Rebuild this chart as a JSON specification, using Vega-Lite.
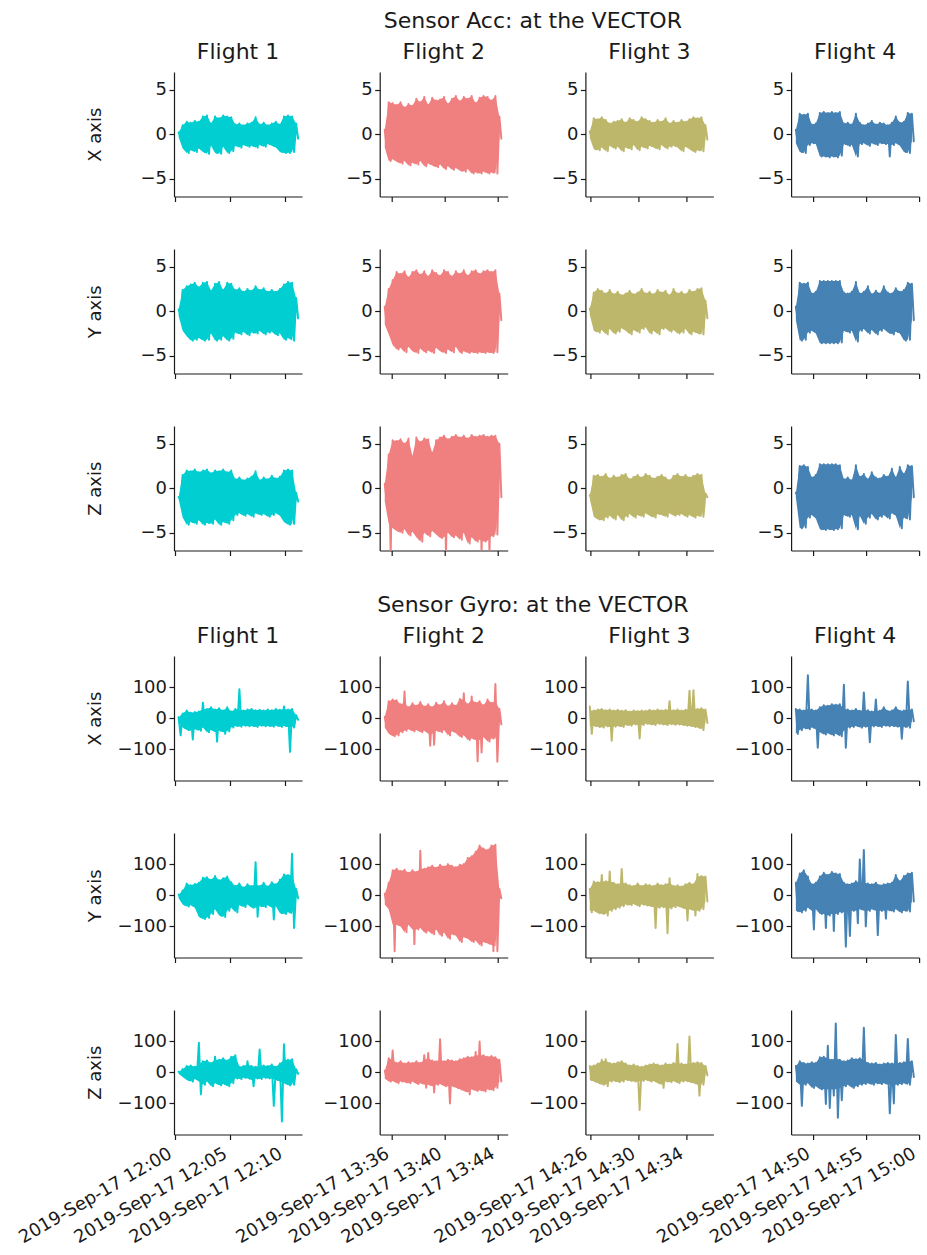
{
"$schema":"https://vega.github.io/schema/vega-lite/v6.json",
"background":"white",
"padding":{"left":0,"top":9,"right":3,"bottom":3},
"spacing":36,
"config":{
"font":"DejaVu Sans",
"view":{"stroke":null},
"line":{"strokeWidth":2,"strokeJoin":"round","strokeCap":"round"},
"area":{"opacity":1,"strokeWidth":0},
"axis":{"domainColor":"#1a1a1a","tickColor":"#1a1a1a","labelColor":"#1a1a1a","titleColor":"#1a1a1a","labelFont":"DejaVu Sans","titleFont":"DejaVu Sans","labelFontSize":18,"titleFontSize":18,"titleFontWeight":"normal","grid":false,"tickSize":5,"tickWidth":1.2,"domainWidth":1.2},
"axisX":{"labelAngle":-30,"labelAlign":"right","labelBaseline":"top","labelOffset":-9,"labelPadding":5,"labelFlush":false,"labelOverlap":false},
"axisY":{"labelPadding":2.5,"labelFlush":false,"labelOverlap":false,"minExtent":174,"titleX":-74,"titleBaseline":"alphabetic"},
"title":{"font":"DejaVu Sans","fontSize":22,"fontWeight":"normal","color":"#1a1a1a","anchor":"middle","frame":"group","baseline":"alphabetic","offset":7.7}
},
"datasets":{
"z":[
{"f":1,"t":"2019-09-17T12:00:21","ax":0.2,"ay":0.2,"az":-1.0,"gx":3,"gy":2,"gz":2},
{"f":1,"t":"2019-09-17T12:00:32","ax":-0.3,"ay":-0.5,"az":-1.2,"gx":-55,"gy":-10,"gz":-5},
{"f":1,"t":"2019-09-17T12:00:43","ax":1.0,"ay":2.4,"az":1.5,"gx":15,"gy":15,"gz":10},
{"f":1,"t":"2019-09-17T12:00:54","ax":-1.6,"ay":-2.2,"az":-3.3,"gx":-30,"gy":-30,"gz":-15},
{"f":1,"t":"2019-09-17T12:01:05","ax":1.4,"ay":2.8,"az":2.0,"gx":25,"gy":38,"gz":20},
{"f":1,"t":"2019-09-17T12:01:16","ax":-2.1,"ay":-2.8,"az":-4.1,"gx":-38,"gy":-36,"gz":-25},
{"f":1,"t":"2019-09-17T12:01:27","ax":1.3,"ay":3.0,"az":1.9,"gx":18,"gy":32,"gz":22},
{"f":1,"t":"2019-09-17T12:01:38","ax":-1.8,"ay":-3.3,"az":-3.8,"gx":-68,"gy":-32,"gz":-30},
{"f":1,"t":"2019-09-17T12:01:49","ax":1.5,"ay":3.2,"az":2.1,"gx":20,"gy":36,"gz":18},
{"f":1,"t":"2019-09-17T12:02:00","ax":-2.0,"ay":-3.2,"az":-4.0,"gx":-35,"gy":-40,"gz":-22},
{"f":1,"t":"2019-09-17T12:02:11","ax":1.4,"ay":2.7,"az":1.8,"gx":22,"gy":40,"gz":95},
{"f":1,"t":"2019-09-17T12:02:22","ax":-1.6,"ay":-3.0,"az":-3.6,"gx":-40,"gy":-70,"gz":-71},
{"f":1,"t":"2019-09-17T12:02:33","ax":2.0,"ay":3.2,"az":2.0,"gx":50,"gy":56,"gz":35},
{"f":1,"t":"2019-09-17T12:02:44","ax":-2.0,"ay":-3.3,"az":-4.1,"gx":-30,"gy":-76,"gz":-40},
{"f":1,"t":"2019-09-17T12:02:55","ax":2.1,"ay":3.3,"az":2.1,"gx":30,"gy":58,"gz":38},
{"f":1,"t":"2019-09-17T12:03:06","ax":-2.2,"ay":-3.2,"az":-3.9,"gx":-45,"gy":-72,"gz":-30},
{"f":1,"t":"2019-09-17T12:03:17","ax":1.2,"ay":2.3,"az":1.7,"gx":35,"gy":50,"gz":30},
{"f":1,"t":"2019-09-17T12:03:28","ax":-1.3,"ay":-2.5,"az":-4.0,"gx":-38,"gy":-60,"gz":-45},
{"f":1,"t":"2019-09-17T12:03:39","ax":2.0,"ay":3.1,"az":2.0,"gx":28,"gy":62,"gz":50},
{"f":1,"t":"2019-09-17T12:03:50","ax":-2.1,"ay":-3.3,"az":-3.5,"gx":-75,"gy":-45,"gz":-35},
{"f":1,"t":"2019-09-17T12:04:01","ax":1.8,"ay":3.3,"az":1.9,"gx":32,"gy":48,"gz":40},
{"f":1,"t":"2019-09-17T12:04:12","ax":-2.2,"ay":-3.2,"az":-4.1,"gx":-40,"gy":-65,"gz":-42},
{"f":1,"t":"2019-09-17T12:04:23","ax":2.1,"ay":2.4,"az":2.1,"gx":25,"gy":55,"gz":45},
{"f":1,"t":"2019-09-17T12:04:34","ax":-1.4,"ay":-2.8,"az":-3.8,"gx":-50,"gy":-70,"gz":-38},
{"f":1,"t":"2019-09-17T12:04:45","ax":2.0,"ay":3.2,"az":1.8,"gx":35,"gy":60,"gz":38},
{"f":1,"t":"2019-09-17T12:04:56","ax":-2.1,"ay":-3.3,"az":-4.0,"gx":-42,"gy":-50,"gz":-45},
{"f":1,"t":"2019-09-17T12:05:07","ax":1.9,"ay":3.1,"az":2.0,"gx":22,"gy":42,"gz":50},
{"f":1,"t":"2019-09-17T12:05:18","ax":-1.9,"ay":-3.1,"az":-3.6,"gx":-30,"gy":-40,"gz":-35},
{"f":1,"t":"2019-09-17T12:05:29","ax":1.1,"ay":2.4,"az":1.0,"gx":30,"gy":30,"gz":55},
{"f":1,"t":"2019-09-17T12:05:40","ax":-1.3,"ay":-2.4,"az":-3.0,"gx":-25,"gy":-55,"gz":-20},
{"f":1,"t":"2019-09-17T12:05:51","ax":1.2,"ay":2.6,"az":1.2,"gx":93,"gy":38,"gz":18},
{"f":1,"t":"2019-09-17T12:06:02","ax":-1.5,"ay":-2.6,"az":-2.8,"gx":-27,"gy":-32,"gz":-22},
{"f":1,"t":"2019-09-17T12:06:13","ax":1.0,"ay":2.2,"az":0.9,"gx":25,"gy":25,"gz":20},
{"f":1,"t":"2019-09-17T12:06:24","ax":-1.2,"ay":-2.3,"az":-3.1,"gx":-24,"gy":-38,"gz":-18},
{"f":1,"t":"2019-09-17T12:06:35","ax":1.2,"ay":2.5,"az":1.1,"gx":28,"gy":35,"gz":35},
{"f":1,"t":"2019-09-17T12:06:46","ax":-1.4,"ay":-2.7,"az":-2.9,"gx":-26,"gy":-30,"gz":-20},
{"f":1,"t":"2019-09-17T12:06:57","ax":1.3,"ay":2.3,"az":1.3,"gx":30,"gy":30,"gz":20},
{"f":1,"t":"2019-09-17T12:07:08","ax":-1.3,"ay":-2.4,"az":-3.2,"gx":-25,"gy":-40,"gz":-45},
{"f":1,"t":"2019-09-17T12:07:19","ax":1.9,"ay":2.8,"az":1.9,"gx":26,"gy":106,"gz":18},
{"f":1,"t":"2019-09-17T12:07:30","ax":-1.5,"ay":-2.5,"az":-2.8,"gx":-28,"gy":-69,"gz":-20},
{"f":1,"t":"2019-09-17T12:07:41","ax":1.1,"ay":2.4,"az":0.9,"gx":27,"gy":30,"gz":73},
{"f":1,"t":"2019-09-17T12:07:52","ax":-1.2,"ay":-2.2,"az":-3.0,"gx":-24,"gy":-35,"gz":-22},
{"f":1,"t":"2019-09-17T12:08:03","ax":1.3,"ay":2.6,"az":1.2,"gx":25,"gy":40,"gz":22},
{"f":1,"t":"2019-09-17T12:08:14","ax":-1.4,"ay":-2.6,"az":-2.9,"gx":-26,"gy":-38,"gz":-18},
{"f":1,"t":"2019-09-17T12:08:25","ax":1.0,"ay":2.2,"az":1.0,"gx":28,"gy":28,"gz":20},
{"f":1,"t":"2019-09-17T12:08:36","ax":-1.1,"ay":-2.4,"az":-3.2,"gx":-25,"gy":-32,"gz":-20},
{"f":1,"t":"2019-09-17T12:08:47","ax":1.2,"ay":2.4,"az":1.4,"gx":26,"gy":42,"gz":25},
{"f":1,"t":"2019-09-17T12:08:58","ax":-1.3,"ay":-2.3,"az":-3.0,"gx":-27,"gy":-78,"gz":-108},
{"f":1,"t":"2019-09-17T12:09:09","ax":1.4,"ay":2.2,"az":1.1,"gx":30,"gy":35,"gz":18},
{"f":1,"t":"2019-09-17T12:09:20","ax":-1.5,"ay":-2.7,"az":-2.8,"gx":-24,"gy":-35,"gz":-25},
{"f":1,"t":"2019-09-17T12:09:31","ax":1.1,"ay":2.5,"az":1.3,"gx":27,"gy":50,"gz":28},
{"f":1,"t":"2019-09-17T12:09:42","ax":-2.0,"ay":-2.5,"az":-3.1,"gx":-28,"gy":-58,"gz":-158},
{"f":1,"t":"2019-09-17T12:09:53","ax":2.0,"ay":3.0,"az":2.0,"gx":38,"gy":67,"gz":90},
{"f":1,"t":"2019-09-17T12:10:04","ax":-2.1,"ay":-3.2,"az":-3.8,"gx":-25,"gy":-60,"gz":-35},
{"f":1,"t":"2019-09-17T12:10:15","ax":2.1,"ay":3.3,"az":2.1,"gx":28,"gy":65,"gz":40},
{"f":1,"t":"2019-09-17T12:10:26","ax":-2.1,"ay":-3.0,"az":-4.1,"gx":-108,"gy":-55,"gz":-42},
{"f":1,"t":"2019-09-17T12:10:37","ax":2.0,"ay":3.2,"az":2.0,"gx":30,"gy":133,"gz":42},
{"f":1,"t":"2019-09-17T12:10:48","ax":-2.0,"ay":-3.3,"az":-4.0,"gx":-30,"gy":-105,"gz":-40},
{"f":1,"t":"2019-09-17T12:10:59","ax":1.2,"ay":1.5,"az":-0.5,"gx":10,"gy":20,"gz":10},
{"f":1,"t":"2019-09-17T12:11:10","ax":-0.5,"ay":-0.8,"az":-1.5,"gx":-5,"gy":-10,"gz":-5},
{"f":2,"t":"2019-09-17T13:35:27","ax":0.5,"ay":0.5,"az":0.5,"gx":5,"gy":5,"gz":5},
{"f":2,"t":"2019-09-17T13:35:36","ax":-1.5,"ay":-1.5,"az":-1.5,"gx":-30,"gy":-30,"gz":-20},
{"f":2,"t":"2019-09-17T13:35:45","ax":3.6,"ay":2.5,"az":3.8,"gx":55,"gy":40,"gz":45},
{"f":2,"t":"2019-09-17T13:35:54","ax":-3.0,"ay":-2.6,"az":-7.5,"gx":-50,"gy":-45,"gz":-30},
{"f":2,"t":"2019-09-17T13:36:03","ax":3.5,"ay":3.5,"az":5.4,"gx":60,"gy":80,"gz":70},
{"f":2,"t":"2019-09-17T13:36:12","ax":-2.8,"ay":-3.8,"az":-4.5,"gx":-58,"gy":-180,"gz":-28},
{"f":2,"t":"2019-09-17T13:36:21","ax":3.3,"ay":4.4,"az":5.3,"gx":58,"gy":85,"gz":30},
{"f":2,"t":"2019-09-17T13:36:30","ax":-3.1,"ay":-4.3,"az":-4.8,"gx":-55,"gy":-95,"gz":-35},
{"f":2,"t":"2019-09-17T13:36:39","ax":3.6,"ay":4.2,"az":5.5,"gx":45,"gy":78,"gz":35},
{"f":2,"t":"2019-09-17T13:36:48","ax":-3.3,"ay":-4.1,"az":-5.0,"gx":-45,"gy":-100,"gz":-30},
{"f":2,"t":"2019-09-17T13:36:57","ax":3.0,"ay":4.5,"az":5.0,"gx":86,"gy":82,"gz":28},
{"f":2,"t":"2019-09-17T13:37:06","ax":-3.0,"ay":-4.6,"az":-4.6,"gx":-40,"gy":-119,"gz":-32},
{"f":2,"t":"2019-09-17T13:37:15","ax":3.4,"ay":3.8,"az":5.6,"gx":35,"gy":72,"gz":32},
{"f":2,"t":"2019-09-17T13:37:24","ax":-3.5,"ay":-4.0,"az":-5.3,"gx":-35,"gy":-95,"gz":-35},
{"f":2,"t":"2019-09-17T13:37:33","ax":3.2,"ay":4.4,"az":3.6,"gx":48,"gy":80,"gz":30},
{"f":2,"t":"2019-09-17T13:37:42","ax":-3.2,"ay":-4.5,"az":-4.9,"gx":-42,"gy":-157,"gz":-30},
{"f":2,"t":"2019-09-17T13:37:51","ax":4.0,"ay":4.6,"az":5.7,"gx":40,"gy":75,"gz":35},
{"f":2,"t":"2019-09-17T13:38:00","ax":-3.4,"ay":-4.7,"az":-5.5,"gx":-38,"gy":-110,"gz":-38},
{"f":2,"t":"2019-09-17T13:38:09","ax":3.6,"ay":4.1,"az":5.2,"gx":52,"gy":143,"gz":30},
{"f":2,"t":"2019-09-17T13:38:18","ax":-3.0,"ay":-4.2,"az":-6.0,"gx":-45,"gy":-105,"gz":-35},
{"f":2,"t":"2019-09-17T13:38:27","ax":4.2,"ay":4.5,"az":5.6,"gx":38,"gy":85,"gz":55},
{"f":2,"t":"2019-09-17T13:38:36","ax":-3.6,"ay":-4.6,"az":-5.0,"gx":-40,"gy":-120,"gz":-50},
{"f":2,"t":"2019-09-17T13:38:45","ax":3.3,"ay":3.9,"az":5.5,"gx":45,"gy":90,"gz":62},
{"f":2,"t":"2019-09-17T13:38:54","ax":-3.3,"ay":-4.4,"az":-5.4,"gx":-88,"gy":-115,"gz":-40},
{"f":2,"t":"2019-09-17T13:39:03","ax":4.1,"ay":4.6,"az":4.0,"gx":35,"gy":95,"gz":38},
{"f":2,"t":"2019-09-17T13:39:12","ax":-3.5,"ay":-4.7,"az":-4.8,"gx":-85,"gy":-125,"gz":-65},
{"f":2,"t":"2019-09-17T13:39:21","ax":3.8,"ay":4.3,"az":5.4,"gx":50,"gy":88,"gz":35},
{"f":2,"t":"2019-09-17T13:39:30","ax":-3.7,"ay":-4.1,"az":-5.2,"gx":-40,"gy":-110,"gz":-40},
{"f":2,"t":"2019-09-17T13:39:39","ax":3.9,"ay":4.0,"az":5.7,"gx":42,"gy":98,"gz":106},
{"f":2,"t":"2019-09-17T13:39:48","ax":-3.4,"ay":-4.5,"az":-5.6,"gx":-45,"gy":-130,"gz":-38},
{"f":2,"t":"2019-09-17T13:39:57","ax":4.2,"ay":4.6,"az":5.9,"gx":55,"gy":92,"gz":35},
{"f":2,"t":"2019-09-17T13:40:06","ax":-3.9,"ay":-4.7,"az":-7.5,"gx":-38,"gy":-120,"gz":-45},
{"f":2,"t":"2019-09-17T13:40:15","ax":3.4,"ay":4.4,"az":5.5,"gx":38,"gy":100,"gz":40},
{"f":2,"t":"2019-09-17T13:40:24","ax":-3.6,"ay":-4.3,"az":-5.0,"gx":-55,"gy":-140,"gz":-100},
{"f":2,"t":"2019-09-17T13:40:33","ax":4.0,"ay":3.9,"az":5.8,"gx":48,"gy":95,"gz":38},
{"f":2,"t":"2019-09-17T13:40:42","ax":-4.0,"ay":-4.6,"az":-5.5,"gx":-42,"gy":-125,"gz":-45},
{"f":2,"t":"2019-09-17T13:40:51","ax":4.3,"ay":4.5,"az":6.0,"gx":40,"gy":90,"gz":35},
{"f":2,"t":"2019-09-17T13:41:00","ax":-3.8,"ay":-4.0,"az":-5.3,"gx":-48,"gy":-130,"gz":-50},
{"f":2,"t":"2019-09-17T13:41:09","ax":3.7,"ay":4.2,"az":5.7,"gx":62,"gy":98,"gz":42},
{"f":2,"t":"2019-09-17T13:41:18","ax":-4.1,"ay":-4.7,"az":-5.8,"gx":-60,"gy":-150,"gz":-55},
{"f":2,"t":"2019-09-17T13:41:27","ax":4.2,"ay":4.6,"az":5.9,"gx":80,"gy":100,"gz":45},
{"f":2,"t":"2019-09-17T13:41:36","ax":-4.2,"ay":-4.5,"az":-5.0,"gx":-55,"gy":-135,"gz":-60},
{"f":2,"t":"2019-09-17T13:41:45","ax":4.0,"ay":4.0,"az":5.6,"gx":45,"gy":120,"gz":50},
{"f":2,"t":"2019-09-17T13:41:54","ax":-3.9,"ay":-4.7,"az":-6.2,"gx":-70,"gy":-140,"gz":-71},
{"f":2,"t":"2019-09-17T13:42:03","ax":4.3,"ay":4.5,"az":6.0,"gx":70,"gy":125,"gz":48},
{"f":2,"t":"2019-09-17T13:42:12","ax":-4.4,"ay":-4.6,"az":-5.5,"gx":-65,"gy":-150,"gz":-55},
{"f":2,"t":"2019-09-17T13:42:21","ax":3.5,"ay":4.6,"az":5.8,"gx":50,"gy":140,"gz":65},
{"f":2,"t":"2019-09-17T13:42:30","ax":-4.3,"ay":-4.7,"az":-6.0,"gx":-138,"gy":-145,"gz":-60},
{"f":2,"t":"2019-09-17T13:42:39","ax":4.1,"ay":4.2,"az":5.9,"gx":55,"gy":160,"gz":99},
{"f":2,"t":"2019-09-17T13:42:48","ax":-4.4,"ay":-4.6,"az":-7.5,"gx":-110,"gy":-161,"gz":-58},
{"f":2,"t":"2019-09-17T13:42:57","ax":4.3,"ay":4.5,"az":6.0,"gx":42,"gy":150,"gz":55},
{"f":2,"t":"2019-09-17T13:43:06","ax":-4.2,"ay":-4.7,"az":-6.0,"gx":-60,"gy":-150,"gz":-62},
{"f":2,"t":"2019-09-17T13:43:15","ax":4.2,"ay":4.6,"az":5.8,"gx":60,"gy":145,"gz":50},
{"f":2,"t":"2019-09-17T13:43:24","ax":-4.4,"ay":-4.6,"az":-7.5,"gx":-75,"gy":-155,"gz":-55},
{"f":2,"t":"2019-09-17T13:43:33","ax":3.8,"ay":4.4,"az":5.9,"gx":50,"gy":160,"gz":52},
{"f":2,"t":"2019-09-17T13:43:42","ax":-4.3,"ay":-4.7,"az":-5.4,"gx":-65,"gy":-180,"gz":-58},
{"f":2,"t":"2019-09-17T13:43:51","ax":4.3,"ay":4.6,"az":5.9,"gx":110,"gy":162,"gz":48},
{"f":2,"t":"2019-09-17T13:44:00","ax":-4.4,"ay":-4.6,"az":-5.2,"gx":-140,"gy":-180,"gz":-50},
{"f":2,"t":"2019-09-17T13:44:09","ax":2.0,"ay":2.0,"az":5.0,"gx":30,"gy":20,"gz":40},
{"f":2,"t":"2019-09-17T13:44:18","ax":-0.5,"ay":-1.0,"az":-1.0,"gx":-20,"gy":-10,"gz":-30},
{"f":3,"t":"2019-09-17T14:25:57","ax":0.3,"ay":0.3,"az":-0.8,"gx":38,"gy":20,"gz":20},
{"f":3,"t":"2019-09-17T14:26:07","ax":-0.4,"ay":-0.4,"az":-1.2,"gx":-50,"gy":-55,"gz":-25},
{"f":3,"t":"2019-09-17T14:26:17","ax":1.8,"ay":2.1,"az":1.4,"gx":25,"gy":44,"gz":22},
{"f":3,"t":"2019-09-17T14:26:27","ax":-1.7,"ay":-2.2,"az":-3.2,"gx":-25,"gy":-50,"gz":-30},
{"f":3,"t":"2019-09-17T14:26:37","ax":1.7,"ay":2.5,"az":1.5,"gx":28,"gy":42,"gz":28},
{"f":3,"t":"2019-09-17T14:26:47","ax":-1.8,"ay":-2.4,"az":-3.5,"gx":-28,"gy":-58,"gz":-35},
{"f":3,"t":"2019-09-17T14:26:57","ax":1.9,"ay":2.3,"az":1.3,"gx":30,"gy":65,"gz":40},
{"f":3,"t":"2019-09-17T14:27:07","ax":-1.5,"ay":-2.1,"az":-3.6,"gx":-30,"gy":-60,"gz":-40},
{"f":3,"t":"2019-09-17T14:27:17","ax":1.6,"ay":2.0,"az":1.6,"gx":26,"gy":45,"gz":42},
{"f":3,"t":"2019-09-17T14:27:27","ax":-1.9,"ay":-2.6,"az":-3.3,"gx":-26,"gy":-65,"gz":-45},
{"f":3,"t":"2019-09-17T14:27:37","ax":1.2,"ay":2.4,"az":1.1,"gx":28,"gy":76,"gz":30},
{"f":3,"t":"2019-09-17T14:27:47","ax":-1.3,"ay":-2.0,"az":-3.1,"gx":-72,"gy":-50,"gz":-30},
{"f":3,"t":"2019-09-17T14:27:57","ax":1.4,"ay":1.9,"az":1.4,"gx":25,"gy":40,"gz":28},
{"f":3,"t":"2019-09-17T14:28:07","ax":-1.6,"ay":-2.5,"az":-3.5,"gx":-27,"gy":-45,"gz":-28},
{"f":3,"t":"2019-09-17T14:28:17","ax":1.5,"ay":2.2,"az":1.2,"gx":27,"gy":35,"gz":32},
{"f":3,"t":"2019-09-17T14:28:27","ax":-1.4,"ay":-2.3,"az":-3.0,"gx":-25,"gy":-40,"gz":-32},
{"f":3,"t":"2019-09-17T14:28:37","ax":1.7,"ay":1.8,"az":1.5,"gx":24,"gy":84,"gz":35},
{"f":3,"t":"2019-09-17T14:28:47","ax":-1.9,"ay":-1.9,"az":-3.6,"gx":-28,"gy":-35,"gz":-30},
{"f":3,"t":"2019-09-17T14:28:57","ax":1.3,"ay":2.0,"az":1.6,"gx":26,"gy":38,"gz":28},
{"f":3,"t":"2019-09-17T14:29:07","ax":-1.5,"ay":-2.2,"az":-3.2,"gx":-22,"gy":-30,"gz":-25},
{"f":3,"t":"2019-09-17T14:29:17","ax":1.8,"ay":2.3,"az":1.0,"gx":22,"gy":32,"gz":22},
{"f":3,"t":"2019-09-17T14:29:27","ax":-1.7,"ay":-2.6,"az":-2.9,"gx":-24,"gy":-32,"gz":-28},
{"f":3,"t":"2019-09-17T14:29:37","ax":1.6,"ay":1.9,"az":1.3,"gx":25,"gy":30,"gz":25},
{"f":3,"t":"2019-09-17T14:29:47","ax":-1.2,"ay":-2.1,"az":-3.3,"gx":-20,"gy":-28,"gz":-30},
{"f":3,"t":"2019-09-17T14:29:57","ax":1.4,"ay":2.1,"az":1.5,"gx":23,"gy":38,"gz":20},
{"f":3,"t":"2019-09-17T14:30:07","ax":-1.8,"ay":-2.4,"az":-3.0,"gx":-65,"gy":-35,"gz":-121},
{"f":3,"t":"2019-09-17T14:30:17","ax":1.9,"ay":2.5,"az":1.2,"gx":25,"gy":30,"gz":18},
{"f":3,"t":"2019-09-17T14:30:27","ax":-1.4,"ay":-2.0,"az":-3.2,"gx":-22,"gy":-30,"gz":-28},
{"f":3,"t":"2019-09-17T14:30:37","ax":1.7,"ay":2.0,"az":1.6,"gx":24,"gy":35,"gz":22},
{"f":3,"t":"2019-09-17T14:30:47","ax":-1.6,"ay":-1.8,"az":-2.8,"gx":-18,"gy":-33,"gz":-25},
{"f":3,"t":"2019-09-17T14:30:57","ax":1.5,"ay":2.2,"az":1.4,"gx":27,"gy":33,"gz":25},
{"f":3,"t":"2019-09-17T14:31:07","ax":-1.3,"ay":-2.5,"az":-3.1,"gx":-20,"gy":-35,"gz":-30},
{"f":3,"t":"2019-09-17T14:31:17","ax":1.3,"ay":1.9,"az":1.1,"gx":25,"gy":30,"gz":28},
{"f":3,"t":"2019-09-17T14:31:27","ax":-1.5,"ay":-2.2,"az":-3.3,"gx":-22,"gy":-105,"gz":-28},
{"f":3,"t":"2019-09-17T14:31:37","ax":1.6,"ay":2.4,"az":1.3,"gx":28,"gy":38,"gz":25},
{"f":3,"t":"2019-09-17T14:31:47","ax":-1.7,"ay":-2.6,"az":-2.9,"gx":-18,"gy":-40,"gz":-35},
{"f":3,"t":"2019-09-17T14:31:57","ax":1.4,"ay":2.1,"az":1.5,"gx":26,"gy":32,"gz":22},
{"f":3,"t":"2019-09-17T14:32:07","ax":-1.2,"ay":-2.0,"az":-3.0,"gx":-20,"gy":-38,"gz":-50},
{"f":3,"t":"2019-09-17T14:32:17","ax":1.8,"ay":2.3,"az":1.2,"gx":27,"gy":35,"gz":28},
{"f":3,"t":"2019-09-17T14:32:27","ax":-1.6,"ay":-1.9,"az":-3.2,"gx":-22,"gy":-122,"gz":-30},
{"f":3,"t":"2019-09-17T14:32:37","ax":1.2,"ay":1.8,"az":0.9,"gx":55,"gy":55,"gz":25},
{"f":3,"t":"2019-09-17T14:32:47","ax":-1.4,"ay":-2.3,"az":-2.8,"gx":-19,"gy":-42,"gz":-32},
{"f":3,"t":"2019-09-17T14:32:57","ax":1.5,"ay":2.5,"az":1.4,"gx":26,"gy":30,"gz":30},
{"f":3,"t":"2019-09-17T14:33:07","ax":-1.3,"ay":-2.1,"az":-3.1,"gx":-21,"gy":-38,"gz":-28},
{"f":3,"t":"2019-09-17T14:33:17","ax":1.3,"ay":2.0,"az":1.6,"gx":28,"gy":32,"gz":91},
{"f":3,"t":"2019-09-17T14:33:27","ax":-1.5,"ay":-2.5,"az":-3.0,"gx":-20,"gy":-35,"gz":-35},
{"f":3,"t":"2019-09-17T14:33:37","ax":1.6,"ay":2.2,"az":1.3,"gx":25,"gy":28,"gz":28},
{"f":3,"t":"2019-09-17T14:33:47","ax":-1.9,"ay":-2.4,"az":-2.9,"gx":-22,"gy":-40,"gz":-30},
{"f":3,"t":"2019-09-17T14:33:57","ax":1.4,"ay":1.9,"az":1.5,"gx":27,"gy":35,"gz":25},
{"f":3,"t":"2019-09-17T14:34:07","ax":-1.4,"ay":-2.0,"az":-3.2,"gx":-24,"gy":-81,"gz":-28},
{"f":3,"t":"2019-09-17T14:34:17","ax":1.7,"ay":2.4,"az":1.2,"gx":88,"gy":40,"gz":115},
{"f":3,"t":"2019-09-17T14:34:27","ax":-1.7,"ay":-2.6,"az":-3.0,"gx":-25,"gy":-45,"gz":-32},
{"f":3,"t":"2019-09-17T14:34:37","ax":1.9,"ay":2.2,"az":1.4,"gx":90,"gy":35,"gz":30},
{"f":3,"t":"2019-09-17T14:34:47","ax":-2.0,"ay":-2.3,"az":-3.3,"gx":-28,"gy":-65,"gz":-35},
{"f":3,"t":"2019-09-17T14:34:57","ax":1.8,"ay":2.5,"az":1.6,"gx":30,"gy":68,"gz":32},
{"f":3,"t":"2019-09-17T14:35:07","ax":-1.8,"ay":-2.5,"az":-3.1,"gx":-30,"gy":-50,"gz":-75},
{"f":3,"t":"2019-09-17T14:35:17","ax":1.9,"ay":2.6,"az":1.5,"gx":32,"gy":62,"gz":30},
{"f":3,"t":"2019-09-17T14:35:27","ax":-1.9,"ay":-2.6,"az":-3.2,"gx":-38,"gy":-45,"gz":-40},
{"f":3,"t":"2019-09-17T14:35:37","ax":1.0,"ay":1.2,"az":-0.6,"gx":28,"gy":60,"gz":20},
{"f":3,"t":"2019-09-17T14:35:47","ax":-0.6,"ay":-0.8,"az":-1.0,"gx":-15,"gy":-20,"gz":-10},
{"f":4,"t":"2019-09-17T14:48:24","ax":0.5,"ay":0.5,"az":-0.5,"gx":30,"gy":40,"gz":20},
{"f":4,"t":"2019-09-17T14:48:35","ax":-1.0,"ay":-1.0,"az":-1.0,"gx":-50,"gy":-50,"gz":-30},
{"f":4,"t":"2019-09-17T14:48:46","ax":2.3,"ay":3.2,"az":2.5,"gx":28,"gy":70,"gz":35},
{"f":4,"t":"2019-09-17T14:48:58","ax":-2.0,"ay":-3.3,"az":-4.5,"gx":-38,"gy":-55,"gz":-108},
{"f":4,"t":"2019-09-17T14:49:09","ax":2.2,"ay":3.1,"az":2.6,"gx":25,"gy":80,"gz":30},
{"f":4,"t":"2019-09-17T14:49:20","ax":-2.1,"ay":-3.2,"az":-4.4,"gx":-32,"gy":-50,"gz":-40},
{"f":4,"t":"2019-09-17T14:49:32","ax":2.3,"ay":3.2,"az":2.4,"gx":138,"gy":60,"gz":28},
{"f":4,"t":"2019-09-17T14:49:43","ax":-1.2,"ay":-2.4,"az":-3.3,"gx":-35,"gy":-40,"gz":-35},
{"f":4,"t":"2019-09-17T14:49:54","ax":1.1,"ay":2.0,"az":1.2,"gx":28,"gy":35,"gz":32},
{"f":4,"t":"2019-09-17T14:50:06","ax":-1.0,"ay":-2.2,"az":-3.0,"gx":-30,"gy":-110,"gz":-50},
{"f":4,"t":"2019-09-17T14:50:17","ax":1.2,"ay":2.2,"az":1.5,"gx":25,"gy":40,"gz":30},
{"f":4,"t":"2019-09-17T14:50:28","ax":-1.1,"ay":-2.5,"az":-3.4,"gx":-95,"gy":-45,"gz":-45},
{"f":4,"t":"2019-09-17T14:50:40","ax":2.4,"ay":3.4,"az":2.7,"gx":35,"gy":60,"gz":48},
{"f":4,"t":"2019-09-17T14:50:51","ax":-2.5,"ay":-3.6,"az":-4.6,"gx":-45,"gy":-60,"gz":-55},
{"f":4,"t":"2019-09-17T14:51:02","ax":2.5,"ay":3.4,"az":2.7,"gx":42,"gy":72,"gz":50},
{"f":4,"t":"2019-09-17T14:51:14","ax":-2.5,"ay":-3.6,"az":-4.7,"gx":-52,"gy":-105,"gz":-102},
{"f":4,"t":"2019-09-17T14:51:25","ax":2.4,"ay":3.4,"az":2.7,"gx":40,"gy":65,"gz":85},
{"f":4,"t":"2019-09-17T14:51:36","ax":-2.6,"ay":-3.6,"az":-4.6,"gx":-48,"gy":-65,"gz":-115},
{"f":4,"t":"2019-09-17T14:51:48","ax":2.5,"ay":3.4,"az":2.7,"gx":45,"gy":75,"gz":40},
{"f":4,"t":"2019-09-17T14:51:59","ax":-2.5,"ay":-3.6,"az":-4.7,"gx":-55,"gy":-115,"gz":-75},
{"f":4,"t":"2019-09-17T14:52:10","ax":2.4,"ay":3.4,"az":2.7,"gx":43,"gy":70,"gz":157},
{"f":4,"t":"2019-09-17T14:52:22","ax":-2.6,"ay":-3.6,"az":-4.6,"gx":-50,"gy":-60,"gz":-146},
{"f":4,"t":"2019-09-17T14:52:33","ax":2.5,"ay":3.4,"az":2.6,"gx":45,"gy":68,"gz":40},
{"f":4,"t":"2019-09-17T14:52:44","ax":-2.4,"ay":-3.5,"az":-4.5,"gx":-58,"gy":-55,"gz":-90},
{"f":4,"t":"2019-09-17T14:52:56","ax":1.2,"ay":2.1,"az":1.0,"gx":108,"gy":40,"gz":35},
{"f":4,"t":"2019-09-17T14:53:07","ax":-1.1,"ay":-2.2,"az":-3.0,"gx":-95,"gy":-165,"gz":-45},
{"f":4,"t":"2019-09-17T14:53:18","ax":1.3,"ay":2.0,"az":1.2,"gx":28,"gy":35,"gz":38},
{"f":4,"t":"2019-09-17T14:53:30","ax":-1.3,"ay":-2.4,"az":-3.2,"gx":-30,"gy":-131,"gz":-40},
{"f":4,"t":"2019-09-17T14:53:41","ax":1.1,"ay":2.2,"az":0.9,"gx":25,"gy":38,"gz":45},
{"f":4,"t":"2019-09-17T14:53:52","ax":-1.2,"ay":-2.2,"az":-3.0,"gx":-28,"gy":-50,"gz":-50},
{"f":4,"t":"2019-09-17T14:54:04","ax":2.3,"ay":3.3,"az":2.6,"gx":30,"gy":45,"gz":42},
{"f":4,"t":"2019-09-17T14:54:15","ax":-2.5,"ay":-3.4,"az":-4.6,"gx":-25,"gy":-90,"gz":-45},
{"f":4,"t":"2019-09-17T14:54:26","ax":1.3,"ay":2.0,"az":1.3,"gx":24,"gy":115,"gz":45},
{"f":4,"t":"2019-09-17T14:54:38","ax":-1.1,"ay":-2.2,"az":-3.1,"gx":-30,"gy":-45,"gz":-40},
{"f":4,"t":"2019-09-17T14:54:49","ax":1.0,"ay":2.2,"az":1.6,"gx":83,"gy":145,"gz":143},
{"f":4,"t":"2019-09-17T14:55:00","ax":-1.0,"ay":-2.0,"az":-4.0,"gx":-27,"gy":-100,"gz":-38},
{"f":4,"t":"2019-09-17T14:55:12","ax":1.2,"ay":2.8,"az":1.0,"gx":26,"gy":38,"gz":30},
{"f":4,"t":"2019-09-17T14:55:23","ax":-1.3,"ay":-2.5,"az":-3.3,"gx":-77,"gy":-50,"gz":-35},
{"f":4,"t":"2019-09-17T14:55:34","ax":1.5,"ay":1.9,"az":1.8,"gx":22,"gy":35,"gz":28},
{"f":4,"t":"2019-09-17T14:55:46","ax":-1.0,"ay":-2.1,"az":-2.9,"gx":-26,"gy":-45,"gz":-40},
{"f":4,"t":"2019-09-17T14:55:57","ax":1.1,"ay":2.3,"az":1.2,"gx":60,"gy":40,"gz":30},
{"f":4,"t":"2019-09-17T14:56:08","ax":-1.2,"ay":-2.6,"az":-3.5,"gx":-25,"gy":-128,"gz":-35},
{"f":4,"t":"2019-09-17T14:56:20","ax":1.3,"ay":2.0,"az":1.1,"gx":24,"gy":32,"gz":25},
{"f":4,"t":"2019-09-17T14:56:31","ax":-1.0,"ay":-2.2,"az":-3.2,"gx":-28,"gy":-50,"gz":-38},
{"f":4,"t":"2019-09-17T14:56:42","ax":1.2,"ay":2.8,"az":1.5,"gx":35,"gy":35,"gz":28},
{"f":4,"t":"2019-09-17T14:56:54","ax":-1.1,"ay":-2.0,"az":-3.0,"gx":-24,"gy":-75,"gz":-35},
{"f":4,"t":"2019-09-17T14:57:05","ax":1.0,"ay":2.1,"az":1.3,"gx":23,"gy":38,"gz":30},
{"f":4,"t":"2019-09-17T14:57:16","ax":-2.5,"ay":-2.4,"az":-3.4,"gx":-26,"gy":-48,"gz":-132},
{"f":4,"t":"2019-09-17T14:57:28","ax":1.3,"ay":2.0,"az":2.2,"gx":25,"gy":40,"gz":28},
{"f":4,"t":"2019-09-17T14:57:39","ax":-1.2,"ay":-2.6,"az":-2.8,"gx":-25,"gy":-52,"gz":-100},
{"f":4,"t":"2019-09-17T14:57:50","ax":2.0,"ay":2.6,"az":1.2,"gx":35,"gy":65,"gz":120},
{"f":4,"t":"2019-09-17T14:58:02","ax":-1.0,"ay":-2.3,"az":-3.1,"gx":-27,"gy":-45,"gz":-40},
{"f":4,"t":"2019-09-17T14:58:13","ax":1.3,"ay":2.2,"az":2.4,"gx":24,"gy":45,"gz":30},
{"f":4,"t":"2019-09-17T14:58:24","ax":-1.3,"ay":-2.5,"az":-4.5,"gx":-66,"gy":-55,"gz":-38},
{"f":4,"t":"2019-09-17T14:58:36","ax":1.4,"ay":2.4,"az":1.6,"gx":25,"gy":62,"gz":32},
{"f":4,"t":"2019-09-17T14:58:47","ax":-2.0,"ay":-3.3,"az":-3.3,"gx":-28,"gy":-50,"gz":-35},
{"f":4,"t":"2019-09-17T14:58:58","ax":2.4,"ay":3.2,"az":2.6,"gx":118,"gy":70,"gz":107},
{"f":4,"t":"2019-09-17T14:59:10","ax":-2.1,"ay":-3.2,"az":-3.5,"gx":-30,"gy":-52,"gz":-40},
{"f":4,"t":"2019-09-17T14:59:21","ax":2.3,"ay":3.1,"az":2.5,"gx":28,"gy":72,"gz":35},
{"f":4,"t":"2019-09-17T14:59:32","ax":-0.8,"ay":-1.0,"az":-1.0,"gx":-10,"gy":-20,"gz":-15}
],
"b":[
{"f":1,"t":"2019-09-17T12:00:21","axh":0.2,"axl":-0.3,"ayh":0.2,"ayl":-0.5,"azh":-1.0,"azl":-1.2,"gxh":3,"gxl":-10,"gyh":2,"gyl":-10,"gzh":2,"gzl":-5},
{"f":1,"t":"2019-09-17T12:00:43","axh":1.0,"axl":-1.6,"ayh":2.4,"ayl":-2.2,"azh":1.5,"azl":-3.3,"gxh":15,"gxl":-30,"gyh":15,"gyl":-30,"gzh":10,"gzl":-15},
{"f":1,"t":"2019-09-17T12:01:05","axh":1.4,"axl":-2.1,"ayh":2.8,"ayl":-2.8,"azh":2.0,"azl":-4.1,"gxh":25,"gxl":-38,"gyh":38,"gyl":-36,"gzh":20,"gzl":-25},
{"f":1,"t":"2019-09-17T12:01:27","axh":1.3,"axl":-1.8,"ayh":3.0,"ayl":-3.3,"azh":1.9,"azl":-3.8,"gxh":18,"gxl":-40,"gyh":32,"gyl":-32,"gzh":22,"gzl":-30},
{"f":1,"t":"2019-09-17T12:01:49","axh":1.5,"axl":-2.0,"ayh":3.2,"ayl":-3.2,"azh":2.1,"azl":-4.0,"gxh":20,"gxl":-35,"gyh":36,"gyl":-40,"gzh":18,"gzl":-22},
{"f":1,"t":"2019-09-17T12:02:11","axh":1.4,"axl":-1.6,"ayh":2.7,"ayl":-3.0,"azh":1.8,"azl":-3.6,"gxh":22,"gxl":-40,"gyh":40,"gyl":-70,"gzh":25,"gzl":-30},
{"f":1,"t":"2019-09-17T12:02:33","axh":2.0,"axl":-2.0,"ayh":3.2,"ayl":-3.3,"azh":2.0,"azl":-4.1,"gxh":30,"gxl":-30,"gyh":56,"gyl":-76,"gzh":35,"gzl":-40},
{"f":1,"t":"2019-09-17T12:02:55","axh":2.1,"axl":-2.2,"ayh":3.3,"ayl":-3.2,"azh":2.1,"azl":-3.9,"gxh":30,"gxl":-45,"gyh":58,"gyl":-72,"gzh":38,"gzl":-30},
{"f":1,"t":"2019-09-17T12:03:17","axh":1.2,"axl":-1.3,"ayh":2.3,"ayl":-2.5,"azh":1.7,"azl":-4.0,"gxh":35,"gxl":-38,"gyh":50,"gyl":-60,"gzh":30,"gzl":-45},
{"f":1,"t":"2019-09-17T12:03:39","axh":2.0,"axl":-2.1,"ayh":3.1,"ayl":-3.3,"azh":2.0,"azl":-3.5,"gxh":28,"gxl":-45,"gyh":62,"gyl":-45,"gzh":40,"gzl":-35},
{"f":1,"t":"2019-09-17T12:04:01","axh":1.8,"axl":-2.2,"ayh":3.3,"ayl":-3.2,"azh":1.9,"azl":-4.1,"gxh":32,"gxl":-40,"gyh":48,"gyl":-65,"gzh":40,"gzl":-42},
{"f":1,"t":"2019-09-17T12:04:23","axh":2.1,"axl":-1.4,"ayh":2.4,"ayl":-2.8,"azh":2.1,"azl":-3.8,"gxh":25,"gxl":-45,"gyh":55,"gyl":-70,"gzh":45,"gzl":-38},
{"f":1,"t":"2019-09-17T12:04:45","axh":2.0,"axl":-2.1,"ayh":3.2,"ayl":-3.3,"azh":1.8,"azl":-4.0,"gxh":35,"gxl":-42,"gyh":60,"gyl":-50,"gzh":38,"gzl":-45},
{"f":1,"t":"2019-09-17T12:05:07","axh":1.9,"axl":-1.9,"ayh":3.1,"ayl":-3.1,"azh":2.0,"azl":-3.6,"gxh":22,"gxl":-30,"gyh":42,"gyl":-40,"gzh":50,"gzl":-35},
{"f":1,"t":"2019-09-17T12:05:29","axh":1.1,"axl":-1.3,"ayh":2.4,"ayl":-2.4,"azh":1.0,"azl":-3.0,"gxh":30,"gxl":-25,"gyh":30,"gyl":-55,"gzh":55,"gzl":-20},
{"f":1,"t":"2019-09-17T12:05:51","axh":1.2,"axl":-1.5,"ayh":2.6,"ayl":-2.6,"azh":1.2,"azl":-2.8,"gxh":28,"gxl":-27,"gyh":38,"gyl":-32,"gzh":18,"gzl":-22},
{"f":1,"t":"2019-09-17T12:06:13","axh":1.0,"axl":-1.2,"ayh":2.2,"ayl":-2.3,"azh":0.9,"azl":-3.1,"gxh":25,"gxl":-24,"gyh":25,"gyl":-38,"gzh":20,"gzl":-18},
{"f":1,"t":"2019-09-17T12:06:35","axh":1.2,"axl":-1.4,"ayh":2.5,"ayl":-2.7,"azh":1.1,"azl":-2.9,"gxh":28,"gxl":-26,"gyh":35,"gyl":-30,"gzh":25,"gzl":-20},
{"f":1,"t":"2019-09-17T12:06:57","axh":1.3,"axl":-1.3,"ayh":2.3,"ayl":-2.4,"azh":1.3,"azl":-3.2,"gxh":30,"gxl":-25,"gyh":30,"gyl":-40,"gzh":20,"gzl":-25},
{"f":1,"t":"2019-09-17T12:07:19","axh":1.9,"axl":-1.5,"ayh":2.8,"ayl":-2.5,"azh":1.9,"azl":-2.8,"gxh":26,"gxl":-28,"gyh":35,"gyl":-40,"gzh":18,"gzl":-20},
{"f":1,"t":"2019-09-17T12:07:41","axh":1.1,"axl":-1.2,"ayh":2.4,"ayl":-2.2,"azh":0.9,"azl":-3.0,"gxh":27,"gxl":-24,"gyh":30,"gyl":-35,"gzh":20,"gzl":-22},
{"f":1,"t":"2019-09-17T12:08:03","axh":1.3,"axl":-1.4,"ayh":2.6,"ayl":-2.6,"azh":1.2,"azl":-2.9,"gxh":25,"gxl":-26,"gyh":40,"gyl":-38,"gzh":22,"gzl":-18},
{"f":1,"t":"2019-09-17T12:08:25","axh":1.0,"axl":-1.1,"ayh":2.2,"ayl":-2.4,"azh":1.0,"azl":-3.2,"gxh":28,"gxl":-25,"gyh":28,"gyl":-32,"gzh":20,"gzl":-20},
{"f":1,"t":"2019-09-17T12:08:47","axh":1.2,"axl":-1.3,"ayh":2.4,"ayl":-2.3,"azh":1.4,"azl":-3.0,"gxh":26,"gxl":-27,"gyh":42,"gyl":-40,"gzh":25,"gzl":-20},
{"f":1,"t":"2019-09-17T12:09:09","axh":1.4,"axl":-1.5,"ayh":2.2,"ayl":-2.7,"azh":1.1,"azl":-2.8,"gxh":30,"gxl":-24,"gyh":35,"gyl":-35,"gzh":18,"gzl":-25},
{"f":1,"t":"2019-09-17T12:09:31","axh":1.1,"axl":-2.0,"ayh":2.5,"ayl":-2.5,"azh":1.3,"azl":-3.1,"gxh":27,"gxl":-28,"gyh":50,"gyl":-58,"gzh":28,"gzl":-30},
{"f":1,"t":"2019-09-17T12:09:53","axh":2.0,"axl":-2.1,"ayh":3.0,"ayl":-3.2,"azh":2.0,"azl":-3.8,"gxh":30,"gxl":-25,"gyh":67,"gyl":-60,"gzh":40,"gzl":-35},
{"f":1,"t":"2019-09-17T12:10:15","axh":2.1,"axl":-2.1,"ayh":3.3,"ayl":-3.0,"azh":2.1,"azl":-4.1,"gxh":28,"gxl":-28,"gyh":65,"gyl":-55,"gzh":40,"gzl":-42},
{"f":1,"t":"2019-09-17T12:10:37","axh":2.0,"axl":-2.0,"ayh":3.2,"ayl":-3.3,"azh":2.0,"azl":-4.0,"gxh":30,"gxl":-30,"gyh":65,"gyl":-60,"gzh":42,"gzl":-40},
{"f":1,"t":"2019-09-17T12:10:59","axh":1.2,"axl":-0.5,"ayh":1.5,"ayl":-0.8,"azh":-0.5,"azl":-1.5,"gxh":10,"gxl":-5,"gyh":20,"gyl":-10,"gzh":10,"gzl":-5},
{"f":2,"t":"2019-09-17T13:35:27","axh":0.5,"axl":-1.5,"ayh":0.5,"ayl":-1.5,"azh":0.5,"azl":-1.5,"gxh":5,"gxl":-30,"gyh":5,"gyl":-30,"gzh":5,"gzl":-20},
{"f":2,"t":"2019-09-17T13:35:45","axh":3.6,"axl":-3.0,"ayh":2.5,"ayl":-2.6,"azh":3.8,"azl":-4.0,"gxh":55,"gxl":-50,"gyh":40,"gyl":-45,"gzh":45,"gzl":-30},
{"f":2,"t":"2019-09-17T13:36:03","axh":3.5,"axl":-2.8,"ayh":3.5,"ayl":-3.8,"azh":5.4,"azl":-4.5,"gxh":60,"gxl":-58,"gyh":80,"gyl":-95,"gzh":40,"gzl":-28},
{"f":2,"t":"2019-09-17T13:36:21","axh":3.3,"axl":-3.1,"ayh":4.4,"ayl":-4.3,"azh":5.3,"azl":-4.8,"gxh":58,"gxl":-55,"gyh":85,"gyl":-95,"gzh":30,"gzl":-35},
{"f":2,"t":"2019-09-17T13:36:39","axh":3.6,"axl":-3.3,"ayh":4.2,"ayl":-4.1,"azh":5.5,"azl":-5.0,"gxh":45,"gxl":-45,"gyh":78,"gyl":-100,"gzh":35,"gzl":-30},
{"f":2,"t":"2019-09-17T13:36:57","axh":3.0,"axl":-3.0,"ayh":4.5,"ayl":-4.6,"azh":5.0,"azl":-4.6,"gxh":50,"gxl":-40,"gyh":82,"gyl":-119,"gzh":28,"gzl":-32},
{"f":2,"t":"2019-09-17T13:37:15","axh":3.4,"axl":-3.5,"ayh":3.8,"ayl":-4.0,"azh":5.6,"azl":-5.3,"gxh":35,"gxl":-35,"gyh":72,"gyl":-95,"gzh":32,"gzl":-35},
{"f":2,"t":"2019-09-17T13:37:33","axh":3.2,"axl":-3.2,"ayh":4.4,"ayl":-4.5,"azh":3.6,"azl":-4.9,"gxh":48,"gxl":-42,"gyh":80,"gyl":-110,"gzh":30,"gzl":-30},
{"f":2,"t":"2019-09-17T13:37:51","axh":4.0,"axl":-3.4,"ayh":4.6,"ayl":-4.7,"azh":5.7,"azl":-5.5,"gxh":40,"gxl":-38,"gyh":75,"gyl":-110,"gzh":35,"gzl":-38},
{"f":2,"t":"2019-09-17T13:38:09","axh":3.6,"axl":-3.0,"ayh":4.1,"ayl":-4.2,"azh":5.2,"azl":-6.0,"gxh":52,"gxl":-45,"gyh":85,"gyl":-105,"gzh":30,"gzl":-35},
{"f":2,"t":"2019-09-17T13:38:27","axh":4.2,"axl":-3.6,"ayh":4.5,"ayl":-4.6,"azh":5.6,"azl":-5.0,"gxh":38,"gxl":-40,"gyh":85,"gyl":-120,"gzh":40,"gzl":-40},
{"f":2,"t":"2019-09-17T13:38:45","axh":3.3,"axl":-3.3,"ayh":3.9,"ayl":-4.4,"azh":5.5,"azl":-5.4,"gxh":45,"gxl":-50,"gyh":90,"gyl":-115,"gzh":45,"gzl":-40},
{"f":2,"t":"2019-09-17T13:39:03","axh":4.1,"axl":-3.5,"ayh":4.6,"ayl":-4.7,"azh":4.0,"azl":-4.8,"gxh":35,"gxl":-50,"gyh":95,"gyl":-125,"gzh":38,"gzl":-45},
{"f":2,"t":"2019-09-17T13:39:21","axh":3.8,"axl":-3.7,"ayh":4.3,"ayl":-4.1,"azh":5.4,"azl":-5.2,"gxh":50,"gxl":-40,"gyh":88,"gyl":-110,"gzh":35,"gzl":-40},
{"f":2,"t":"2019-09-17T13:39:39","axh":3.9,"axl":-3.4,"ayh":4.0,"ayl":-4.5,"azh":5.7,"azl":-5.6,"gxh":42,"gxl":-45,"gyh":98,"gyl":-130,"gzh":40,"gzl":-38},
{"f":2,"t":"2019-09-17T13:39:57","axh":4.2,"axl":-3.9,"ayh":4.6,"ayl":-4.7,"azh":5.9,"azl":-5.5,"gxh":55,"gxl":-38,"gyh":92,"gyl":-120,"gzh":35,"gzl":-45},
{"f":2,"t":"2019-09-17T13:40:15","axh":3.4,"axl":-3.6,"ayh":4.4,"ayl":-4.3,"azh":5.5,"azl":-5.0,"gxh":38,"gxl":-55,"gyh":100,"gyl":-140,"gzh":40,"gzl":-45},
{"f":2,"t":"2019-09-17T13:40:33","axh":4.0,"axl":-4.0,"ayh":3.9,"ayl":-4.6,"azh":5.8,"azl":-5.5,"gxh":48,"gxl":-42,"gyh":95,"gyl":-125,"gzh":38,"gzl":-45},
{"f":2,"t":"2019-09-17T13:40:51","axh":4.3,"axl":-3.8,"ayh":4.5,"ayl":-4.0,"azh":6.0,"azl":-5.3,"gxh":40,"gxl":-48,"gyh":90,"gyl":-130,"gzh":35,"gzl":-50},
{"f":2,"t":"2019-09-17T13:41:09","axh":3.7,"axl":-4.1,"ayh":4.2,"ayl":-4.7,"azh":5.7,"azl":-5.8,"gxh":62,"gxl":-60,"gyh":98,"gyl":-150,"gzh":42,"gzl":-55},
{"f":2,"t":"2019-09-17T13:41:27","axh":4.2,"axl":-4.2,"ayh":4.6,"ayl":-4.5,"azh":5.9,"azl":-5.0,"gxh":60,"gxl":-55,"gyh":100,"gyl":-135,"gzh":45,"gzl":-60},
{"f":2,"t":"2019-09-17T13:41:45","axh":4.0,"axl":-3.9,"ayh":4.0,"ayl":-4.7,"azh":5.6,"azl":-6.2,"gxh":45,"gxl":-70,"gyh":120,"gyl":-140,"gzh":50,"gzl":-65},
{"f":2,"t":"2019-09-17T13:42:03","axh":4.3,"axl":-4.4,"ayh":4.5,"ayl":-4.6,"azh":6.0,"azl":-5.5,"gxh":60,"gxl":-65,"gyh":125,"gyl":-150,"gzh":48,"gzl":-55},
{"f":2,"t":"2019-09-17T13:42:21","axh":3.5,"axl":-4.3,"ayh":4.6,"ayl":-4.7,"azh":5.8,"azl":-6.0,"gxh":50,"gxl":-70,"gyh":140,"gyl":-145,"gzh":55,"gzl":-60},
{"f":2,"t":"2019-09-17T13:42:39","axh":4.1,"axl":-4.4,"ayh":4.2,"ayl":-4.6,"azh":5.9,"azl":-5.8,"gxh":55,"gxl":-70,"gyh":160,"gyl":-161,"gzh":55,"gzl":-58},
{"f":2,"t":"2019-09-17T13:42:57","axh":4.3,"axl":-4.2,"ayh":4.5,"ayl":-4.7,"azh":6.0,"azl":-6.0,"gxh":42,"gxl":-60,"gyh":150,"gyl":-150,"gzh":55,"gzl":-62},
{"f":2,"t":"2019-09-17T13:43:15","axh":4.2,"axl":-4.4,"ayh":4.6,"ayl":-4.6,"azh":5.8,"azl":-5.9,"gxh":60,"gxl":-75,"gyh":145,"gyl":-155,"gzh":50,"gzl":-55},
{"f":2,"t":"2019-09-17T13:43:33","axh":3.8,"axl":-4.3,"ayh":4.4,"ayl":-4.7,"azh":5.9,"azl":-5.4,"gxh":50,"gxl":-65,"gyh":160,"gyl":-160,"gzh":52,"gzl":-58},
{"f":2,"t":"2019-09-17T13:43:51","axh":4.3,"axl":-4.4,"ayh":4.6,"ayl":-4.6,"azh":5.9,"azl":-5.2,"gxh":55,"gxl":-65,"gyh":162,"gyl":-165,"gzh":48,"gzl":-50},
{"f":2,"t":"2019-09-17T13:44:09","axh":2.0,"axl":-0.5,"ayh":2.0,"ayl":-1.0,"azh":5.0,"azl":-1.0,"gxh":30,"gxl":-20,"gyh":20,"gyl":-10,"gzh":40,"gzl":-30},
{"f":3,"t":"2019-09-17T14:25:57","axh":0.3,"axl":-0.4,"ayh":0.3,"ayl":-0.4,"azh":-0.8,"azl":-1.2,"gxh":25,"gxl":-25,"gyh":20,"gyl":-50,"gzh":20,"gzl":-25},
{"f":3,"t":"2019-09-17T14:26:17","axh":1.8,"axl":-1.7,"ayh":2.1,"ayl":-2.2,"azh":1.4,"azl":-3.2,"gxh":25,"gxl":-25,"gyh":44,"gyl":-50,"gzh":22,"gzl":-30},
{"f":3,"t":"2019-09-17T14:26:37","axh":1.7,"axl":-1.8,"ayh":2.5,"ayl":-2.4,"azh":1.5,"azl":-3.5,"gxh":28,"gxl":-28,"gyh":42,"gyl":-58,"gzh":28,"gzl":-35},
{"f":3,"t":"2019-09-17T14:26:57","axh":1.9,"axl":-1.5,"ayh":2.3,"ayl":-2.1,"azh":1.3,"azl":-3.6,"gxh":30,"gxl":-30,"gyh":45,"gyl":-60,"gzh":35,"gzl":-40},
{"f":3,"t":"2019-09-17T14:27:17","axh":1.6,"axl":-1.9,"ayh":2.0,"ayl":-2.6,"azh":1.6,"azl":-3.3,"gxh":26,"gxl":-26,"gyh":45,"gyl":-60,"gzh":38,"gzl":-40},
{"f":3,"t":"2019-09-17T14:27:37","axh":1.2,"axl":-1.3,"ayh":2.4,"ayl":-2.0,"azh":1.1,"azl":-3.1,"gxh":28,"gxl":-28,"gyh":45,"gyl":-50,"gzh":30,"gzl":-30},
{"f":3,"t":"2019-09-17T14:27:57","axh":1.4,"axl":-1.6,"ayh":1.9,"ayl":-2.5,"azh":1.4,"azl":-3.5,"gxh":25,"gxl":-27,"gyh":40,"gyl":-45,"gzh":28,"gzl":-28},
{"f":3,"t":"2019-09-17T14:28:17","axh":1.5,"axl":-1.4,"ayh":2.2,"ayl":-2.3,"azh":1.2,"azl":-3.0,"gxh":27,"gxl":-25,"gyh":35,"gyl":-40,"gzh":32,"gzl":-32},
{"f":3,"t":"2019-09-17T14:28:37","axh":1.7,"axl":-1.9,"ayh":1.8,"ayl":-1.9,"azh":1.5,"azl":-3.6,"gxh":24,"gxl":-28,"gyh":40,"gyl":-35,"gzh":35,"gzl":-30},
{"f":3,"t":"2019-09-17T14:28:57","axh":1.3,"axl":-1.5,"ayh":2.0,"ayl":-2.2,"azh":1.6,"azl":-3.2,"gxh":26,"gxl":-22,"gyh":38,"gyl":-30,"gzh":28,"gzl":-25},
{"f":3,"t":"2019-09-17T14:29:17","axh":1.8,"axl":-1.7,"ayh":2.3,"ayl":-2.6,"azh":1.0,"azl":-2.9,"gxh":22,"gxl":-24,"gyh":32,"gyl":-32,"gzh":22,"gzl":-28},
{"f":3,"t":"2019-09-17T14:29:37","axh":1.6,"axl":-1.2,"ayh":1.9,"ayl":-2.1,"azh":1.3,"azl":-3.3,"gxh":25,"gxl":-20,"gyh":30,"gyl":-28,"gzh":25,"gzl":-30},
{"f":3,"t":"2019-09-17T14:29:57","axh":1.4,"axl":-1.8,"ayh":2.1,"ayl":-2.4,"azh":1.5,"azl":-3.0,"gxh":23,"gxl":-22,"gyh":38,"gyl":-35,"gzh":20,"gzl":-30},
{"f":3,"t":"2019-09-17T14:30:17","axh":1.9,"axl":-1.4,"ayh":2.5,"ayl":-2.0,"azh":1.2,"azl":-3.2,"gxh":25,"gxl":-22,"gyh":30,"gyl":-30,"gzh":18,"gzl":-28},
{"f":3,"t":"2019-09-17T14:30:37","axh":1.7,"axl":-1.6,"ayh":2.0,"ayl":-1.8,"azh":1.6,"azl":-2.8,"gxh":24,"gxl":-18,"gyh":35,"gyl":-33,"gzh":22,"gzl":-25},
{"f":3,"t":"2019-09-17T14:30:57","axh":1.5,"axl":-1.3,"ayh":2.2,"ayl":-2.5,"azh":1.4,"azl":-3.1,"gxh":27,"gxl":-20,"gyh":33,"gyl":-35,"gzh":25,"gzl":-30},
{"f":3,"t":"2019-09-17T14:31:17","axh":1.3,"axl":-1.5,"ayh":1.9,"ayl":-2.2,"azh":1.1,"azl":-3.3,"gxh":25,"gxl":-22,"gyh":30,"gyl":-38,"gzh":28,"gzl":-28},
{"f":3,"t":"2019-09-17T14:31:37","axh":1.6,"axl":-1.7,"ayh":2.4,"ayl":-2.6,"azh":1.3,"azl":-2.9,"gxh":28,"gxl":-18,"gyh":38,"gyl":-40,"gzh":25,"gzl":-35},
{"f":3,"t":"2019-09-17T14:31:57","axh":1.4,"axl":-1.2,"ayh":2.1,"ayl":-2.0,"azh":1.5,"azl":-3.0,"gxh":26,"gxl":-20,"gyh":32,"gyl":-38,"gzh":22,"gzl":-40},
{"f":3,"t":"2019-09-17T14:32:17","axh":1.8,"axl":-1.6,"ayh":2.3,"ayl":-1.9,"azh":1.2,"azl":-3.2,"gxh":27,"gxl":-22,"gyh":35,"gyl":-40,"gzh":28,"gzl":-30},
{"f":3,"t":"2019-09-17T14:32:37","axh":1.2,"axl":-1.4,"ayh":1.8,"ayl":-2.3,"azh":0.9,"azl":-2.8,"gxh":27,"gxl":-19,"gyh":40,"gyl":-42,"gzh":25,"gzl":-32},
{"f":3,"t":"2019-09-17T14:32:57","axh":1.5,"axl":-1.3,"ayh":2.5,"ayl":-2.1,"azh":1.4,"azl":-3.1,"gxh":26,"gxl":-21,"gyh":30,"gyl":-38,"gzh":30,"gzl":-28},
{"f":3,"t":"2019-09-17T14:33:17","axh":1.3,"axl":-1.5,"ayh":2.0,"ayl":-2.5,"azh":1.6,"azl":-3.0,"gxh":28,"gxl":-20,"gyh":32,"gyl":-35,"gzh":28,"gzl":-35},
{"f":3,"t":"2019-09-17T14:33:37","axh":1.6,"axl":-1.9,"ayh":2.2,"ayl":-2.4,"azh":1.3,"azl":-2.9,"gxh":25,"gxl":-22,"gyh":28,"gyl":-40,"gzh":28,"gzl":-30},
{"f":3,"t":"2019-09-17T14:33:57","axh":1.4,"axl":-1.4,"ayh":1.9,"ayl":-2.0,"azh":1.5,"azl":-3.2,"gxh":27,"gxl":-24,"gyh":35,"gyl":-45,"gzh":25,"gzl":-28},
{"f":3,"t":"2019-09-17T14:34:17","axh":1.7,"axl":-1.7,"ayh":2.4,"ayl":-2.6,"azh":1.2,"azl":-3.0,"gxh":30,"gxl":-25,"gyh":40,"gyl":-45,"gzh":30,"gzl":-32},
{"f":3,"t":"2019-09-17T14:34:37","axh":1.9,"axl":-2.0,"ayh":2.2,"ayl":-2.3,"azh":1.4,"azl":-3.3,"gxh":30,"gxl":-28,"gyh":35,"gyl":-50,"gzh":30,"gzl":-35},
{"f":3,"t":"2019-09-17T14:34:57","axh":1.8,"axl":-1.8,"ayh":2.5,"ayl":-2.5,"azh":1.6,"azl":-3.1,"gxh":30,"gxl":-30,"gyh":60,"gyl":-50,"gzh":32,"gzl":-40},
{"f":3,"t":"2019-09-17T14:35:17","axh":1.9,"axl":-1.9,"ayh":2.6,"ayl":-2.6,"azh":1.5,"azl":-3.2,"gxh":32,"gxl":-35,"gyh":62,"gyl":-45,"gzh":30,"gzl":-40},
{"f":3,"t":"2019-09-17T14:35:37","axh":1.0,"axl":-0.6,"ayh":1.2,"ayl":-0.8,"azh":-0.6,"azl":-1.0,"gxh":28,"gxl":-15,"gyh":60,"gyl":-20,"gzh":20,"gzl":-10},
{"f":4,"t":"2019-09-17T14:48:24","axh":0.5,"axl":-1.0,"ayh":0.5,"ayl":-1.0,"azh":-0.5,"azl":-1.0,"gxh":30,"gxl":-50,"gyh":40,"gyl":-50,"gzh":20,"gzl":-30},
{"f":4,"t":"2019-09-17T14:48:46","axh":2.3,"axl":-2.0,"ayh":3.2,"ayl":-3.3,"azh":2.5,"azl":-4.5,"gxh":28,"gxl":-38,"gyh":70,"gyl":-55,"gzh":35,"gzl":-40},
{"f":4,"t":"2019-09-17T14:49:09","axh":2.2,"axl":-2.1,"ayh":3.1,"ayl":-3.2,"azh":2.6,"azl":-4.4,"gxh":25,"gxl":-32,"gyh":80,"gyl":-50,"gzh":30,"gzl":-40},
{"f":4,"t":"2019-09-17T14:49:32","axh":2.3,"axl":-1.2,"ayh":3.2,"ayl":-2.4,"azh":2.4,"azl":-3.3,"gxh":30,"gxl":-35,"gyh":60,"gyl":-40,"gzh":28,"gzl":-35},
{"f":4,"t":"2019-09-17T14:49:54","axh":1.1,"axl":-1.0,"ayh":2.0,"ayl":-2.2,"azh":1.2,"azl":-3.0,"gxh":28,"gxl":-30,"gyh":35,"gyl":-50,"gzh":32,"gzl":-50},
{"f":4,"t":"2019-09-17T14:50:17","axh":1.2,"axl":-1.1,"ayh":2.2,"ayl":-2.5,"azh":1.5,"azl":-3.4,"gxh":25,"gxl":-35,"gyh":40,"gyl":-45,"gzh":30,"gzl":-45},
{"f":4,"t":"2019-09-17T14:50:40","axh":2.4,"axl":-2.5,"ayh":3.4,"ayl":-3.6,"azh":2.7,"azl":-4.6,"gxh":35,"gxl":-45,"gyh":60,"gyl":-60,"gzh":48,"gzl":-55},
{"f":4,"t":"2019-09-17T14:51:02","axh":2.5,"axl":-2.5,"ayh":3.4,"ayl":-3.6,"azh":2.7,"azl":-4.7,"gxh":42,"gxl":-52,"gyh":72,"gyl":-60,"gzh":50,"gzl":-55},
{"f":4,"t":"2019-09-17T14:51:25","axh":2.4,"axl":-2.6,"ayh":3.4,"ayl":-3.6,"azh":2.7,"azl":-4.6,"gxh":40,"gxl":-48,"gyh":65,"gyl":-65,"gzh":45,"gzl":-55},
{"f":4,"t":"2019-09-17T14:51:48","axh":2.5,"axl":-2.5,"ayh":3.4,"ayl":-3.6,"azh":2.7,"azl":-4.7,"gxh":45,"gxl":-55,"gyh":75,"gyl":-60,"gzh":40,"gzl":-55},
{"f":4,"t":"2019-09-17T14:52:10","axh":2.4,"axl":-2.6,"ayh":3.4,"ayl":-3.6,"azh":2.7,"azl":-4.6,"gxh":43,"gxl":-50,"gyh":70,"gyl":-60,"gzh":45,"gzl":-55},
{"f":4,"t":"2019-09-17T14:52:33","axh":2.5,"axl":-2.4,"ayh":3.4,"ayl":-3.5,"azh":2.6,"azl":-4.5,"gxh":45,"gxl":-58,"gyh":68,"gyl":-55,"gzh":40,"gzl":-50},
{"f":4,"t":"2019-09-17T14:52:56","axh":1.2,"axl":-1.1,"ayh":2.1,"ayl":-2.2,"azh":1.0,"azl":-3.0,"gxh":30,"gxl":-40,"gyh":40,"gyl":-55,"gzh":35,"gzl":-45},
{"f":4,"t":"2019-09-17T14:53:18","axh":1.3,"axl":-1.3,"ayh":2.0,"ayl":-2.4,"azh":1.2,"azl":-3.2,"gxh":28,"gxl":-30,"gyh":35,"gyl":-55,"gzh":38,"gzl":-40},
{"f":4,"t":"2019-09-17T14:53:41","axh":1.1,"axl":-1.2,"ayh":2.2,"ayl":-2.2,"azh":0.9,"azl":-3.0,"gxh":25,"gxl":-28,"gyh":38,"gyl":-50,"gzh":45,"gzl":-50},
{"f":4,"t":"2019-09-17T14:54:04","axh":2.3,"axl":-2.5,"ayh":3.3,"ayl":-3.4,"azh":2.6,"azl":-4.6,"gxh":30,"gxl":-25,"gyh":45,"gyl":-50,"gzh":42,"gzl":-45},
{"f":4,"t":"2019-09-17T14:54:26","axh":1.3,"axl":-1.1,"ayh":2.0,"ayl":-2.2,"azh":1.3,"azl":-3.1,"gxh":24,"gxl":-30,"gyh":40,"gyl":-45,"gzh":45,"gzl":-40},
{"f":4,"t":"2019-09-17T14:54:49","axh":1.0,"axl":-1.0,"ayh":2.2,"ayl":-2.0,"azh":1.6,"azl":-4.0,"gxh":26,"gxl":-27,"gyh":40,"gyl":-50,"gzh":40,"gzl":-38},
{"f":4,"t":"2019-09-17T14:55:12","axh":1.2,"axl":-1.3,"ayh":2.8,"ayl":-2.5,"azh":1.0,"azl":-3.3,"gxh":26,"gxl":-28,"gyh":38,"gyl":-50,"gzh":30,"gzl":-35},
{"f":4,"t":"2019-09-17T14:55:34","axh":1.5,"axl":-1.0,"ayh":1.9,"ayl":-2.1,"azh":1.8,"azl":-2.9,"gxh":22,"gxl":-26,"gyh":35,"gyl":-45,"gzh":28,"gzl":-40},
{"f":4,"t":"2019-09-17T14:55:57","axh":1.1,"axl":-1.2,"ayh":2.3,"ayl":-2.6,"azh":1.2,"azl":-3.5,"gxh":25,"gxl":-25,"gyh":40,"gyl":-50,"gzh":30,"gzl":-35},
{"f":4,"t":"2019-09-17T14:56:20","axh":1.3,"axl":-1.0,"ayh":2.0,"ayl":-2.2,"azh":1.1,"azl":-3.2,"gxh":24,"gxl":-28,"gyh":32,"gyl":-50,"gzh":25,"gzl":-38},
{"f":4,"t":"2019-09-17T14:56:42","axh":1.2,"axl":-1.1,"ayh":2.8,"ayl":-2.0,"azh":1.5,"azl":-3.0,"gxh":35,"gxl":-24,"gyh":35,"gyl":-50,"gzh":28,"gzl":-35},
{"f":4,"t":"2019-09-17T14:57:05","axh":1.0,"axl":-1.1,"ayh":2.1,"ayl":-2.4,"azh":1.3,"azl":-3.4,"gxh":23,"gxl":-26,"gyh":38,"gyl":-48,"gzh":30,"gzl":-40},
{"f":4,"t":"2019-09-17T14:57:28","axh":1.3,"axl":-1.2,"ayh":2.0,"ayl":-2.6,"azh":2.2,"azl":-2.8,"gxh":25,"gxl":-25,"gyh":40,"gyl":-52,"gzh":28,"gzl":-40},
{"f":4,"t":"2019-09-17T14:57:50","axh":2.0,"axl":-1.0,"ayh":2.6,"ayl":-2.3,"azh":1.2,"azl":-3.1,"gxh":35,"gxl":-27,"gyh":65,"gyl":-45,"gzh":30,"gzl":-40},
{"f":4,"t":"2019-09-17T14:58:13","axh":1.3,"axl":-1.3,"ayh":2.2,"ayl":-2.5,"azh":2.4,"azl":-4.5,"gxh":24,"gxl":-28,"gyh":45,"gyl":-55,"gzh":30,"gzl":-38},
{"f":4,"t":"2019-09-17T14:58:36","axh":1.4,"axl":-2.0,"ayh":2.4,"ayl":-3.3,"azh":1.6,"azl":-3.3,"gxh":25,"gxl":-28,"gyh":62,"gyl":-50,"gzh":32,"gzl":-35},
{"f":4,"t":"2019-09-17T14:58:58","axh":2.4,"axl":-2.1,"ayh":3.2,"ayl":-3.2,"azh":2.6,"azl":-3.5,"gxh":28,"gxl":-30,"gyh":70,"gyl":-52,"gzh":35,"gzl":-40},
{"f":4,"t":"2019-09-17T14:59:21","axh":2.3,"axl":-0.8,"ayh":3.1,"ayl":-1.0,"azh":2.5,"azl":-1.0,"gxh":28,"gxl":-10,"gyh":72,"gyl":-20,"gzh":35,"gzl":-15}
]
},
"vconcat":[
{"title":{"text":"Sensor Acc: at the VECTOR","frame":"bounds","offset":8.8,"dx":73},"bounds":"flush","spacing":77.7,"hconcat":[
{"width":128,"height":124.5,"title":"Flight 1","encoding":{"x":{"field":"t","type":"temporal","title":null,"scale":{"domain":[{"year":2019,"month":9,"date":17,"hours":11,"minutes":59,"seconds":56},{"year":2019,"month":9,"date":17,"hours":12,"minutes":11,"seconds":31}]},"axis":{"labels":false,"minExtent":16,"values":[{"year":2019,"month":9,"date":17,"hours":12,"minutes":0},{"year":2019,"month":9,"date":17,"hours":12,"minutes":5},{"year":2019,"month":9,"date":17,"hours":12,"minutes":10}]}},"color":{"field":"f","type":"nominal","scale":{"domain":[1,2,3,4],"range":["#00CED1","#F08080","#BDB76B","#4682B4"]},"legend":null}},"layer":[
{"data":{"name":"b"},"transform":[{"filter":"datum.f==1"}],"mark":{"type":"area","clip":true},"encoding":{"y":{"field":"axl","type":"quantitative","title":"X axis","scale":{"domain":[-7,7]},"axis":{"values":[-5,0,5]}},"y2":{"field":"axh"}}},
{"data":{"name":"z"},"transform":[{"filter":"datum.f==1"}],"mark":{"type":"line","clip":true},"encoding":{"y":{"field":"ax","type":"quantitative","title":"X axis"}}}]},
{"width":128,"height":124.5,"title":"Flight 2","encoding":{"x":{"field":"t","type":"temporal","title":null,"scale":{"domain":[{"year":2019,"month":9,"date":17,"hours":13,"minutes":35,"seconds":4},{"year":2019,"month":9,"date":17,"hours":13,"minutes":44,"seconds":47}]},"axis":{"labels":false,"minExtent":16,"values":[{"year":2019,"month":9,"date":17,"hours":13,"minutes":36},{"year":2019,"month":9,"date":17,"hours":13,"minutes":40},{"year":2019,"month":9,"date":17,"hours":13,"minutes":44}]}},"color":{"field":"f","type":"nominal","scale":{"domain":[1,2,3,4],"range":["#00CED1","#F08080","#BDB76B","#4682B4"]},"legend":null}},"layer":[
{"data":{"name":"b"},"transform":[{"filter":"datum.f==2"}],"mark":{"type":"area","clip":true},"encoding":{"y":{"field":"axl","type":"quantitative","title":null,"scale":{"domain":[-7,7]},"axis":{"values":[-5,0,5]}},"y2":{"field":"axh"}}},
{"data":{"name":"z"},"transform":[{"filter":"datum.f==2"}],"mark":{"type":"line","clip":true},"encoding":{"y":{"field":"ax","type":"quantitative","title":null}}}]},
{"width":128,"height":124.5,"title":"Flight 3","encoding":{"x":{"field":"t","type":"temporal","title":null,"scale":{"domain":[{"year":2019,"month":9,"date":17,"hours":14,"minutes":25,"seconds":35},{"year":2019,"month":9,"date":17,"hours":14,"minutes":36,"seconds":17}]},"axis":{"labels":false,"minExtent":16,"values":[{"year":2019,"month":9,"date":17,"hours":14,"minutes":26},{"year":2019,"month":9,"date":17,"hours":14,"minutes":30},{"year":2019,"month":9,"date":17,"hours":14,"minutes":34}]}},"color":{"field":"f","type":"nominal","scale":{"domain":[1,2,3,4],"range":["#00CED1","#F08080","#BDB76B","#4682B4"]},"legend":null}},"layer":[
{"data":{"name":"b"},"transform":[{"filter":"datum.f==3"}],"mark":{"type":"area","clip":true},"encoding":{"y":{"field":"axl","type":"quantitative","title":null,"scale":{"domain":[-7,7]},"axis":{"values":[-5,0,5]}},"y2":{"field":"axh"}}},
{"data":{"name":"z"},"transform":[{"filter":"datum.f==3"}],"mark":{"type":"line","clip":true},"encoding":{"y":{"field":"ax","type":"quantitative","title":null}}}]},
{"width":128,"height":124.5,"title":"Flight 4","encoding":{"x":{"field":"t","type":"temporal","title":null,"scale":{"domain":[{"year":2019,"month":9,"date":17,"hours":14,"minutes":47,"seconds":57},{"year":2019,"month":9,"date":17,"hours":15,"minutes":0,"seconds":2}]},"axis":{"labels":false,"minExtent":16,"values":[{"year":2019,"month":9,"date":17,"hours":14,"minutes":50},{"year":2019,"month":9,"date":17,"hours":14,"minutes":55},{"year":2019,"month":9,"date":17,"hours":15,"minutes":0}]}},"color":{"field":"f","type":"nominal","scale":{"domain":[1,2,3,4],"range":["#00CED1","#F08080","#BDB76B","#4682B4"]},"legend":null}},"layer":[
{"data":{"name":"b"},"transform":[{"filter":"datum.f==4"}],"mark":{"type":"area","clip":true},"encoding":{"y":{"field":"axl","type":"quantitative","title":null,"scale":{"domain":[-7,7]},"axis":{"values":[-5,0,5]}},"y2":{"field":"axh"}}},
{"data":{"name":"z"},"transform":[{"filter":"datum.f==4"}],"mark":{"type":"line","clip":true},"encoding":{"y":{"field":"ax","type":"quantitative","title":null}}}]}
]},
{"bounds":"flush","spacing":77.7,"hconcat":[
{"width":128,"height":124.5,"encoding":{"x":{"field":"t","type":"temporal","title":null,"scale":{"domain":[{"year":2019,"month":9,"date":17,"hours":11,"minutes":59,"seconds":56},{"year":2019,"month":9,"date":17,"hours":12,"minutes":11,"seconds":31}]},"axis":{"labels":false,"minExtent":16,"values":[{"year":2019,"month":9,"date":17,"hours":12,"minutes":0},{"year":2019,"month":9,"date":17,"hours":12,"minutes":5},{"year":2019,"month":9,"date":17,"hours":12,"minutes":10}]}},"color":{"field":"f","type":"nominal","scale":{"domain":[1,2,3,4],"range":["#00CED1","#F08080","#BDB76B","#4682B4"]},"legend":null}},"layer":[
{"data":{"name":"b"},"transform":[{"filter":"datum.f==1"}],"mark":{"type":"area","clip":true},"encoding":{"y":{"field":"ayl","type":"quantitative","title":"Y axis","scale":{"domain":[-7,7]},"axis":{"values":[-5,0,5]}},"y2":{"field":"ayh"}}},
{"data":{"name":"z"},"transform":[{"filter":"datum.f==1"}],"mark":{"type":"line","clip":true},"encoding":{"y":{"field":"ay","type":"quantitative","title":"Y axis"}}}]},
{"width":128,"height":124.5,"encoding":{"x":{"field":"t","type":"temporal","title":null,"scale":{"domain":[{"year":2019,"month":9,"date":17,"hours":13,"minutes":35,"seconds":4},{"year":2019,"month":9,"date":17,"hours":13,"minutes":44,"seconds":47}]},"axis":{"labels":false,"minExtent":16,"values":[{"year":2019,"month":9,"date":17,"hours":13,"minutes":36},{"year":2019,"month":9,"date":17,"hours":13,"minutes":40},{"year":2019,"month":9,"date":17,"hours":13,"minutes":44}]}},"color":{"field":"f","type":"nominal","scale":{"domain":[1,2,3,4],"range":["#00CED1","#F08080","#BDB76B","#4682B4"]},"legend":null}},"layer":[
{"data":{"name":"b"},"transform":[{"filter":"datum.f==2"}],"mark":{"type":"area","clip":true},"encoding":{"y":{"field":"ayl","type":"quantitative","title":null,"scale":{"domain":[-7,7]},"axis":{"values":[-5,0,5]}},"y2":{"field":"ayh"}}},
{"data":{"name":"z"},"transform":[{"filter":"datum.f==2"}],"mark":{"type":"line","clip":true},"encoding":{"y":{"field":"ay","type":"quantitative","title":null}}}]},
{"width":128,"height":124.5,"encoding":{"x":{"field":"t","type":"temporal","title":null,"scale":{"domain":[{"year":2019,"month":9,"date":17,"hours":14,"minutes":25,"seconds":35},{"year":2019,"month":9,"date":17,"hours":14,"minutes":36,"seconds":17}]},"axis":{"labels":false,"minExtent":16,"values":[{"year":2019,"month":9,"date":17,"hours":14,"minutes":26},{"year":2019,"month":9,"date":17,"hours":14,"minutes":30},{"year":2019,"month":9,"date":17,"hours":14,"minutes":34}]}},"color":{"field":"f","type":"nominal","scale":{"domain":[1,2,3,4],"range":["#00CED1","#F08080","#BDB76B","#4682B4"]},"legend":null}},"layer":[
{"data":{"name":"b"},"transform":[{"filter":"datum.f==3"}],"mark":{"type":"area","clip":true},"encoding":{"y":{"field":"ayl","type":"quantitative","title":null,"scale":{"domain":[-7,7]},"axis":{"values":[-5,0,5]}},"y2":{"field":"ayh"}}},
{"data":{"name":"z"},"transform":[{"filter":"datum.f==3"}],"mark":{"type":"line","clip":true},"encoding":{"y":{"field":"ay","type":"quantitative","title":null}}}]},
{"width":128,"height":124.5,"encoding":{"x":{"field":"t","type":"temporal","title":null,"scale":{"domain":[{"year":2019,"month":9,"date":17,"hours":14,"minutes":47,"seconds":57},{"year":2019,"month":9,"date":17,"hours":15,"minutes":0,"seconds":2}]},"axis":{"labels":false,"minExtent":16,"values":[{"year":2019,"month":9,"date":17,"hours":14,"minutes":50},{"year":2019,"month":9,"date":17,"hours":14,"minutes":55},{"year":2019,"month":9,"date":17,"hours":15,"minutes":0}]}},"color":{"field":"f","type":"nominal","scale":{"domain":[1,2,3,4],"range":["#00CED1","#F08080","#BDB76B","#4682B4"]},"legend":null}},"layer":[
{"data":{"name":"b"},"transform":[{"filter":"datum.f==4"}],"mark":{"type":"area","clip":true},"encoding":{"y":{"field":"ayl","type":"quantitative","title":null,"scale":{"domain":[-7,7]},"axis":{"values":[-5,0,5]}},"y2":{"field":"ayh"}}},
{"data":{"name":"z"},"transform":[{"filter":"datum.f==4"}],"mark":{"type":"line","clip":true},"encoding":{"y":{"field":"ay","type":"quantitative","title":null}}}]}
]},
{"bounds":"flush","spacing":77.7,"hconcat":[
{"width":128,"height":124.5,"encoding":{"x":{"field":"t","type":"temporal","title":null,"scale":{"domain":[{"year":2019,"month":9,"date":17,"hours":11,"minutes":59,"seconds":56},{"year":2019,"month":9,"date":17,"hours":12,"minutes":11,"seconds":31}]},"axis":{"labels":false,"minExtent":0,"values":[{"year":2019,"month":9,"date":17,"hours":12,"minutes":0},{"year":2019,"month":9,"date":17,"hours":12,"minutes":5},{"year":2019,"month":9,"date":17,"hours":12,"minutes":10}]}},"color":{"field":"f","type":"nominal","scale":{"domain":[1,2,3,4],"range":["#00CED1","#F08080","#BDB76B","#4682B4"]},"legend":null}},"layer":[
{"data":{"name":"b"},"transform":[{"filter":"datum.f==1"}],"mark":{"type":"area","clip":true},"encoding":{"y":{"field":"azl","type":"quantitative","title":"Z axis","scale":{"domain":[-7,7]},"axis":{"values":[-5,0,5]}},"y2":{"field":"azh"}}},
{"data":{"name":"z"},"transform":[{"filter":"datum.f==1"}],"mark":{"type":"line","clip":true},"encoding":{"y":{"field":"az","type":"quantitative","title":"Z axis"}}}]},
{"width":128,"height":124.5,"encoding":{"x":{"field":"t","type":"temporal","title":null,"scale":{"domain":[{"year":2019,"month":9,"date":17,"hours":13,"minutes":35,"seconds":4},{"year":2019,"month":9,"date":17,"hours":13,"minutes":44,"seconds":47}]},"axis":{"labels":false,"minExtent":0,"values":[{"year":2019,"month":9,"date":17,"hours":13,"minutes":36},{"year":2019,"month":9,"date":17,"hours":13,"minutes":40},{"year":2019,"month":9,"date":17,"hours":13,"minutes":44}]}},"color":{"field":"f","type":"nominal","scale":{"domain":[1,2,3,4],"range":["#00CED1","#F08080","#BDB76B","#4682B4"]},"legend":null}},"layer":[
{"data":{"name":"b"},"transform":[{"filter":"datum.f==2"}],"mark":{"type":"area","clip":true},"encoding":{"y":{"field":"azl","type":"quantitative","title":null,"scale":{"domain":[-7,7]},"axis":{"values":[-5,0,5]}},"y2":{"field":"azh"}}},
{"data":{"name":"z"},"transform":[{"filter":"datum.f==2"}],"mark":{"type":"line","clip":true},"encoding":{"y":{"field":"az","type":"quantitative","title":null}}}]},
{"width":128,"height":124.5,"encoding":{"x":{"field":"t","type":"temporal","title":null,"scale":{"domain":[{"year":2019,"month":9,"date":17,"hours":14,"minutes":25,"seconds":35},{"year":2019,"month":9,"date":17,"hours":14,"minutes":36,"seconds":17}]},"axis":{"labels":false,"minExtent":0,"values":[{"year":2019,"month":9,"date":17,"hours":14,"minutes":26},{"year":2019,"month":9,"date":17,"hours":14,"minutes":30},{"year":2019,"month":9,"date":17,"hours":14,"minutes":34}]}},"color":{"field":"f","type":"nominal","scale":{"domain":[1,2,3,4],"range":["#00CED1","#F08080","#BDB76B","#4682B4"]},"legend":null}},"layer":[
{"data":{"name":"b"},"transform":[{"filter":"datum.f==3"}],"mark":{"type":"area","clip":true},"encoding":{"y":{"field":"azl","type":"quantitative","title":null,"scale":{"domain":[-7,7]},"axis":{"values":[-5,0,5]}},"y2":{"field":"azh"}}},
{"data":{"name":"z"},"transform":[{"filter":"datum.f==3"}],"mark":{"type":"line","clip":true},"encoding":{"y":{"field":"az","type":"quantitative","title":null}}}]},
{"width":128,"height":124.5,"encoding":{"x":{"field":"t","type":"temporal","title":null,"scale":{"domain":[{"year":2019,"month":9,"date":17,"hours":14,"minutes":47,"seconds":57},{"year":2019,"month":9,"date":17,"hours":15,"minutes":0,"seconds":2}]},"axis":{"labels":false,"minExtent":0,"values":[{"year":2019,"month":9,"date":17,"hours":14,"minutes":50},{"year":2019,"month":9,"date":17,"hours":14,"minutes":55},{"year":2019,"month":9,"date":17,"hours":15,"minutes":0}]}},"color":{"field":"f","type":"nominal","scale":{"domain":[1,2,3,4],"range":["#00CED1","#F08080","#BDB76B","#4682B4"]},"legend":null}},"layer":[
{"data":{"name":"b"},"transform":[{"filter":"datum.f==4"}],"mark":{"type":"area","clip":true},"encoding":{"y":{"field":"azl","type":"quantitative","title":null,"scale":{"domain":[-7,7]},"axis":{"values":[-5,0,5]}},"y2":{"field":"azh"}}},
{"data":{"name":"z"},"transform":[{"filter":"datum.f==4"}],"mark":{"type":"line","clip":true},"encoding":{"y":{"field":"az","type":"quantitative","title":null}}}]}
]},
{"title":{"text":"Sensor Gyro: at the VECTOR","frame":"bounds","offset":8.8,"dx":73},"bounds":"flush","spacing":77.7,"hconcat":[
{"width":128,"height":124.5,"title":"Flight 1","encoding":{"x":{"field":"t","type":"temporal","title":null,"scale":{"domain":[{"year":2019,"month":9,"date":17,"hours":11,"minutes":59,"seconds":56},{"year":2019,"month":9,"date":17,"hours":12,"minutes":11,"seconds":31}]},"axis":{"labels":false,"minExtent":16,"values":[{"year":2019,"month":9,"date":17,"hours":12,"minutes":0},{"year":2019,"month":9,"date":17,"hours":12,"minutes":5},{"year":2019,"month":9,"date":17,"hours":12,"minutes":10}]}},"color":{"field":"f","type":"nominal","scale":{"domain":[1,2,3,4],"range":["#00CED1","#F08080","#BDB76B","#4682B4"]},"legend":null}},"layer":[
{"data":{"name":"b"},"transform":[{"filter":"datum.f==1"}],"mark":{"type":"area","clip":true},"encoding":{"y":{"field":"gxl","type":"quantitative","title":"X axis","scale":{"domain":[-176,176]},"axis":{"values":[-100,0,100]}},"y2":{"field":"gxh"}}},
{"data":{"name":"z"},"transform":[{"filter":"datum.f==1"}],"mark":{"type":"line","clip":true},"encoding":{"y":{"field":"gx","type":"quantitative","title":"X axis"}}}]},
{"width":128,"height":124.5,"title":"Flight 2","encoding":{"x":{"field":"t","type":"temporal","title":null,"scale":{"domain":[{"year":2019,"month":9,"date":17,"hours":13,"minutes":35,"seconds":4},{"year":2019,"month":9,"date":17,"hours":13,"minutes":44,"seconds":47}]},"axis":{"labels":false,"minExtent":16,"values":[{"year":2019,"month":9,"date":17,"hours":13,"minutes":36},{"year":2019,"month":9,"date":17,"hours":13,"minutes":40},{"year":2019,"month":9,"date":17,"hours":13,"minutes":44}]}},"color":{"field":"f","type":"nominal","scale":{"domain":[1,2,3,4],"range":["#00CED1","#F08080","#BDB76B","#4682B4"]},"legend":null}},"layer":[
{"data":{"name":"b"},"transform":[{"filter":"datum.f==2"}],"mark":{"type":"area","clip":true},"encoding":{"y":{"field":"gxl","type":"quantitative","title":null,"scale":{"domain":[-176,176]},"axis":{"values":[-100,0,100]}},"y2":{"field":"gxh"}}},
{"data":{"name":"z"},"transform":[{"filter":"datum.f==2"}],"mark":{"type":"line","clip":true},"encoding":{"y":{"field":"gx","type":"quantitative","title":null}}}]},
{"width":128,"height":124.5,"title":"Flight 3","encoding":{"x":{"field":"t","type":"temporal","title":null,"scale":{"domain":[{"year":2019,"month":9,"date":17,"hours":14,"minutes":25,"seconds":35},{"year":2019,"month":9,"date":17,"hours":14,"minutes":36,"seconds":17}]},"axis":{"labels":false,"minExtent":16,"values":[{"year":2019,"month":9,"date":17,"hours":14,"minutes":26},{"year":2019,"month":9,"date":17,"hours":14,"minutes":30},{"year":2019,"month":9,"date":17,"hours":14,"minutes":34}]}},"color":{"field":"f","type":"nominal","scale":{"domain":[1,2,3,4],"range":["#00CED1","#F08080","#BDB76B","#4682B4"]},"legend":null}},"layer":[
{"data":{"name":"b"},"transform":[{"filter":"datum.f==3"}],"mark":{"type":"area","clip":true},"encoding":{"y":{"field":"gxl","type":"quantitative","title":null,"scale":{"domain":[-176,176]},"axis":{"values":[-100,0,100]}},"y2":{"field":"gxh"}}},
{"data":{"name":"z"},"transform":[{"filter":"datum.f==3"}],"mark":{"type":"line","clip":true},"encoding":{"y":{"field":"gx","type":"quantitative","title":null}}}]},
{"width":128,"height":124.5,"title":"Flight 4","encoding":{"x":{"field":"t","type":"temporal","title":null,"scale":{"domain":[{"year":2019,"month":9,"date":17,"hours":14,"minutes":47,"seconds":57},{"year":2019,"month":9,"date":17,"hours":15,"minutes":0,"seconds":2}]},"axis":{"labels":false,"minExtent":16,"values":[{"year":2019,"month":9,"date":17,"hours":14,"minutes":50},{"year":2019,"month":9,"date":17,"hours":14,"minutes":55},{"year":2019,"month":9,"date":17,"hours":15,"minutes":0}]}},"color":{"field":"f","type":"nominal","scale":{"domain":[1,2,3,4],"range":["#00CED1","#F08080","#BDB76B","#4682B4"]},"legend":null}},"layer":[
{"data":{"name":"b"},"transform":[{"filter":"datum.f==4"}],"mark":{"type":"area","clip":true},"encoding":{"y":{"field":"gxl","type":"quantitative","title":null,"scale":{"domain":[-176,176]},"axis":{"values":[-100,0,100]}},"y2":{"field":"gxh"}}},
{"data":{"name":"z"},"transform":[{"filter":"datum.f==4"}],"mark":{"type":"line","clip":true},"encoding":{"y":{"field":"gx","type":"quantitative","title":null}}}]}
]},
{"bounds":"flush","spacing":77.7,"hconcat":[
{"width":128,"height":124.5,"encoding":{"x":{"field":"t","type":"temporal","title":null,"scale":{"domain":[{"year":2019,"month":9,"date":17,"hours":11,"minutes":59,"seconds":56},{"year":2019,"month":9,"date":17,"hours":12,"minutes":11,"seconds":31}]},"axis":{"labels":false,"minExtent":16,"values":[{"year":2019,"month":9,"date":17,"hours":12,"minutes":0},{"year":2019,"month":9,"date":17,"hours":12,"minutes":5},{"year":2019,"month":9,"date":17,"hours":12,"minutes":10}]}},"color":{"field":"f","type":"nominal","scale":{"domain":[1,2,3,4],"range":["#00CED1","#F08080","#BDB76B","#4682B4"]},"legend":null}},"layer":[
{"data":{"name":"b"},"transform":[{"filter":"datum.f==1"}],"mark":{"type":"area","clip":true},"encoding":{"y":{"field":"gyl","type":"quantitative","title":"Y axis","scale":{"domain":[-176,176]},"axis":{"values":[-100,0,100]}},"y2":{"field":"gyh"}}},
{"data":{"name":"z"},"transform":[{"filter":"datum.f==1"}],"mark":{"type":"line","clip":true},"encoding":{"y":{"field":"gy","type":"quantitative","title":"Y axis"}}}]},
{"width":128,"height":124.5,"encoding":{"x":{"field":"t","type":"temporal","title":null,"scale":{"domain":[{"year":2019,"month":9,"date":17,"hours":13,"minutes":35,"seconds":4},{"year":2019,"month":9,"date":17,"hours":13,"minutes":44,"seconds":47}]},"axis":{"labels":false,"minExtent":16,"values":[{"year":2019,"month":9,"date":17,"hours":13,"minutes":36},{"year":2019,"month":9,"date":17,"hours":13,"minutes":40},{"year":2019,"month":9,"date":17,"hours":13,"minutes":44}]}},"color":{"field":"f","type":"nominal","scale":{"domain":[1,2,3,4],"range":["#00CED1","#F08080","#BDB76B","#4682B4"]},"legend":null}},"layer":[
{"data":{"name":"b"},"transform":[{"filter":"datum.f==2"}],"mark":{"type":"area","clip":true},"encoding":{"y":{"field":"gyl","type":"quantitative","title":null,"scale":{"domain":[-176,176]},"axis":{"values":[-100,0,100]}},"y2":{"field":"gyh"}}},
{"data":{"name":"z"},"transform":[{"filter":"datum.f==2"}],"mark":{"type":"line","clip":true},"encoding":{"y":{"field":"gy","type":"quantitative","title":null}}}]},
{"width":128,"height":124.5,"encoding":{"x":{"field":"t","type":"temporal","title":null,"scale":{"domain":[{"year":2019,"month":9,"date":17,"hours":14,"minutes":25,"seconds":35},{"year":2019,"month":9,"date":17,"hours":14,"minutes":36,"seconds":17}]},"axis":{"labels":false,"minExtent":16,"values":[{"year":2019,"month":9,"date":17,"hours":14,"minutes":26},{"year":2019,"month":9,"date":17,"hours":14,"minutes":30},{"year":2019,"month":9,"date":17,"hours":14,"minutes":34}]}},"color":{"field":"f","type":"nominal","scale":{"domain":[1,2,3,4],"range":["#00CED1","#F08080","#BDB76B","#4682B4"]},"legend":null}},"layer":[
{"data":{"name":"b"},"transform":[{"filter":"datum.f==3"}],"mark":{"type":"area","clip":true},"encoding":{"y":{"field":"gyl","type":"quantitative","title":null,"scale":{"domain":[-176,176]},"axis":{"values":[-100,0,100]}},"y2":{"field":"gyh"}}},
{"data":{"name":"z"},"transform":[{"filter":"datum.f==3"}],"mark":{"type":"line","clip":true},"encoding":{"y":{"field":"gy","type":"quantitative","title":null}}}]},
{"width":128,"height":124.5,"encoding":{"x":{"field":"t","type":"temporal","title":null,"scale":{"domain":[{"year":2019,"month":9,"date":17,"hours":14,"minutes":47,"seconds":57},{"year":2019,"month":9,"date":17,"hours":15,"minutes":0,"seconds":2}]},"axis":{"labels":false,"minExtent":16,"values":[{"year":2019,"month":9,"date":17,"hours":14,"minutes":50},{"year":2019,"month":9,"date":17,"hours":14,"minutes":55},{"year":2019,"month":9,"date":17,"hours":15,"minutes":0}]}},"color":{"field":"f","type":"nominal","scale":{"domain":[1,2,3,4],"range":["#00CED1","#F08080","#BDB76B","#4682B4"]},"legend":null}},"layer":[
{"data":{"name":"b"},"transform":[{"filter":"datum.f==4"}],"mark":{"type":"area","clip":true},"encoding":{"y":{"field":"gyl","type":"quantitative","title":null,"scale":{"domain":[-176,176]},"axis":{"values":[-100,0,100]}},"y2":{"field":"gyh"}}},
{"data":{"name":"z"},"transform":[{"filter":"datum.f==4"}],"mark":{"type":"line","clip":true},"encoding":{"y":{"field":"gy","type":"quantitative","title":null}}}]}
]},
{"bounds":"flush","spacing":77.7,"hconcat":[
{"width":128,"height":124.5,"encoding":{"x":{"field":"t","type":"temporal","title":null,"scale":{"domain":[{"year":2019,"month":9,"date":17,"hours":11,"minutes":59,"seconds":56},{"year":2019,"month":9,"date":17,"hours":12,"minutes":11,"seconds":31}]},"axis":{"format":"%Y-%b-%d %H:%M","values":[{"year":2019,"month":9,"date":17,"hours":12,"minutes":0},{"year":2019,"month":9,"date":17,"hours":12,"minutes":5},{"year":2019,"month":9,"date":17,"hours":12,"minutes":10}]}},"color":{"field":"f","type":"nominal","scale":{"domain":[1,2,3,4],"range":["#00CED1","#F08080","#BDB76B","#4682B4"]},"legend":null}},"layer":[
{"data":{"name":"b"},"transform":[{"filter":"datum.f==1"}],"mark":{"type":"area","clip":true},"encoding":{"y":{"field":"gzl","type":"quantitative","title":"Z axis","scale":{"domain":[-176,176]},"axis":{"values":[-100,0,100]}},"y2":{"field":"gzh"}}},
{"data":{"name":"z"},"transform":[{"filter":"datum.f==1"}],"mark":{"type":"line","clip":true},"encoding":{"y":{"field":"gz","type":"quantitative","title":"Z axis"}}}]},
{"width":128,"height":124.5,"encoding":{"x":{"field":"t","type":"temporal","title":null,"scale":{"domain":[{"year":2019,"month":9,"date":17,"hours":13,"minutes":35,"seconds":4},{"year":2019,"month":9,"date":17,"hours":13,"minutes":44,"seconds":47}]},"axis":{"format":"%Y-%b-%d %H:%M","values":[{"year":2019,"month":9,"date":17,"hours":13,"minutes":36},{"year":2019,"month":9,"date":17,"hours":13,"minutes":40},{"year":2019,"month":9,"date":17,"hours":13,"minutes":44}]}},"color":{"field":"f","type":"nominal","scale":{"domain":[1,2,3,4],"range":["#00CED1","#F08080","#BDB76B","#4682B4"]},"legend":null}},"layer":[
{"data":{"name":"b"},"transform":[{"filter":"datum.f==2"}],"mark":{"type":"area","clip":true},"encoding":{"y":{"field":"gzl","type":"quantitative","title":null,"scale":{"domain":[-176,176]},"axis":{"values":[-100,0,100]}},"y2":{"field":"gzh"}}},
{"data":{"name":"z"},"transform":[{"filter":"datum.f==2"}],"mark":{"type":"line","clip":true},"encoding":{"y":{"field":"gz","type":"quantitative","title":null}}}]},
{"width":128,"height":124.5,"encoding":{"x":{"field":"t","type":"temporal","title":null,"scale":{"domain":[{"year":2019,"month":9,"date":17,"hours":14,"minutes":25,"seconds":35},{"year":2019,"month":9,"date":17,"hours":14,"minutes":36,"seconds":17}]},"axis":{"format":"%Y-%b-%d %H:%M","values":[{"year":2019,"month":9,"date":17,"hours":14,"minutes":26},{"year":2019,"month":9,"date":17,"hours":14,"minutes":30},{"year":2019,"month":9,"date":17,"hours":14,"minutes":34}]}},"color":{"field":"f","type":"nominal","scale":{"domain":[1,2,3,4],"range":["#00CED1","#F08080","#BDB76B","#4682B4"]},"legend":null}},"layer":[
{"data":{"name":"b"},"transform":[{"filter":"datum.f==3"}],"mark":{"type":"area","clip":true},"encoding":{"y":{"field":"gzl","type":"quantitative","title":null,"scale":{"domain":[-176,176]},"axis":{"values":[-100,0,100]}},"y2":{"field":"gzh"}}},
{"data":{"name":"z"},"transform":[{"filter":"datum.f==3"}],"mark":{"type":"line","clip":true},"encoding":{"y":{"field":"gz","type":"quantitative","title":null}}}]},
{"width":128,"height":124.5,"encoding":{"x":{"field":"t","type":"temporal","title":null,"scale":{"domain":[{"year":2019,"month":9,"date":17,"hours":14,"minutes":47,"seconds":57},{"year":2019,"month":9,"date":17,"hours":15,"minutes":0,"seconds":2}]},"axis":{"format":"%Y-%b-%d %H:%M","values":[{"year":2019,"month":9,"date":17,"hours":14,"minutes":50},{"year":2019,"month":9,"date":17,"hours":14,"minutes":55},{"year":2019,"month":9,"date":17,"hours":15,"minutes":0}]}},"color":{"field":"f","type":"nominal","scale":{"domain":[1,2,3,4],"range":["#00CED1","#F08080","#BDB76B","#4682B4"]},"legend":null}},"layer":[
{"data":{"name":"b"},"transform":[{"filter":"datum.f==4"}],"mark":{"type":"area","clip":true},"encoding":{"y":{"field":"gzl","type":"quantitative","title":null,"scale":{"domain":[-176,176]},"axis":{"values":[-100,0,100]}},"y2":{"field":"gzh"}}},
{"data":{"name":"z"},"transform":[{"filter":"datum.f==4"}],"mark":{"type":"line","clip":true},"encoding":{"y":{"field":"gz","type":"quantitative","title":null}}}]}
]}
]
}
